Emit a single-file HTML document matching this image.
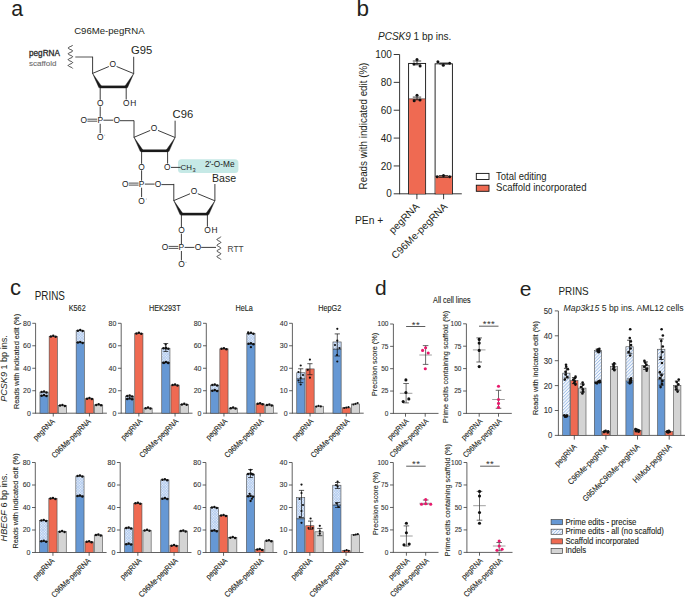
<!DOCTYPE html>
<html><head><meta charset="utf-8"><style>
html,body{margin:0;padding:0;background:#fff;}
body{width:685px;height:598px;overflow:hidden;}
svg{display:block;font-family:"Liberation Sans", sans-serif;}
</style></head><body>
<svg width="685" height="598" viewBox="0 0 685 598" fill="#231f20">
<defs>
<pattern id="hc" patternUnits="userSpaceOnUse" width="1.9" height="1.9" patternTransform="rotate(45)">
<rect width="1.9" height="1.9" fill="#f0f5fc"/><rect width="0.7" height="1.9" fill="#a9c5ec"/><rect width="1.9" height="0.7" fill="#a9c5ec"/>
</pattern>
<pattern id="hd" patternUnits="userSpaceOnUse" width="2.3" height="2.3" patternTransform="rotate(45)">
<rect width="2.3" height="2.3" fill="#f6f9fd"/><rect width="0.85" height="2.3" fill="#a0bfe9"/>
</pattern>
</defs>
<text x="11.2" y="16.2" font-size="21.3">a</text>
<text x="74.2" y="34" font-size="9.6" transform="translate(74.2 34) scale(1.000 1.040) translate(-74.2 -34)">C96Me-pegRNA</text>
<path d="M72.6,45.1 L72.53,45.34 L72.31,45.59 L71.96,45.83 L71.5,46.07 L70.97,46.31 L70.4,46.56 L69.83,46.8 L69.3,47.04 L68.84,47.28 L68.49,47.53 L68.27,47.77 L68.2,48.01 L68.27,48.26 L68.49,48.5 L68.84,48.74 L69.3,48.98 L69.83,49.23 L70.4,49.47 L70.97,49.71 L71.5,49.95 L71.96,50.2 L72.31,50.44 L72.53,50.68 L72.6,50.93 L72.53,51.17 L72.31,51.41 L71.96,51.65 L71.5,51.9 L70.97,52.14 L70.4,52.38 L69.83,52.62 L69.3,52.87 L68.84,53.11 L68.49,53.35 L68.27,53.59 L68.2,53.84 L68.27,54.08 L68.49,54.32 L68.84,54.57 L69.3,54.81 L69.83,55.05 L70.4,55.29 L70.97,55.54 L71.5,55.78 L71.96,56.02 L72.31,56.26 L72.53,56.51 L72.6,56.75 L72.53,56.99 L72.31,57.24 L71.96,57.48 L71.5,57.72 L70.97,57.96 L70.4,58.21 L69.83,58.45 L69.3,58.69 L68.84,58.93 L68.49,59.18 L68.27,59.42 L68.2,59.66 L68.27,59.91 L68.49,60.15 L68.84,60.39 L69.3,60.63 L69.83,60.88 L70.4,61.12 L70.97,61.36 L71.5,61.6 L71.96,61.85 L72.31,62.09 L72.53,62.33 L72.6,62.58 L72.53,62.82 L72.31,63.06 L71.96,63.3 L71.5,63.55 L70.97,63.79 L70.4,64.03 L69.83,64.27 L69.3,64.52 L68.84,64.76 L68.49,65 L68.27,65.24 L68.2,65.49 L68.27,65.73 L68.49,65.97 L68.84,66.22 L69.3,66.46 L69.83,66.7 L70.4,66.94 L70.97,67.19 L71.5,67.43 L71.96,67.67 L72.31,67.91 L72.53,68.16 L72.6,68.4" stroke="#1a1a1a" stroke-width="0.85" fill="none" stroke-linejoin="round"/>
<text x="29" y="55.6" font-size="8.2" fill="#2a2a2a" stroke="#2a2a2a" stroke-width="0.3">pegRNA</text>
<text x="29" y="65.5" font-size="8" fill="#6a6a6a" stroke="#6a6a6a" stroke-width="0.1">scaffold</text>
<line x1="75.3" y1="57" x2="92.6" y2="57" stroke="#555" stroke-width="1"/>
<line x1="92.6" y1="73.4" x2="108.83" y2="66.54" stroke="#1a1a1a" stroke-width="0.85"/>
<line x1="116.58" y1="66.51" x2="133.7" y2="73.6" stroke="#1a1a1a" stroke-width="0.85"/>
<text x="112.7" y="67.25" font-size="8.4" text-anchor="middle" fill="#1a1a1a" stroke="none">O</text>
<path d="M92.6,73.4 L98.89,87.64 L101.51,86.16 Z" fill="#1a1a1a" stroke="#1a1a1a" stroke-width="0.4"/>
<path d="M133.7,73.6 L124.89,86.16 L127.51,87.64 Z" fill="#1a1a1a" stroke="#1a1a1a" stroke-width="0.4"/>
<line x1="99.5" y1="86.9" x2="126.9" y2="86.9" stroke="#1a1a1a" stroke-width="2.6"/>
<line x1="133.7" y1="73.6" x2="133.7" y2="56.8" stroke="#1a1a1a" stroke-width="0.85"/>
<line x1="92.6" y1="73.7" x2="92.6" y2="56.7" stroke="#1a1a1a" stroke-width="0.85"/>
<line x1="100.2" y1="86.9" x2="100.2" y2="99.9" stroke="#1a1a1a" stroke-width="0.85"/>
<text x="100.2" y="106.15" font-size="8.4" text-anchor="middle" fill="#1a1a1a" stroke="none">O</text>
<text x="131" y="54.2" font-size="10.4" transform="translate(131 54.2) scale(1.080 1.000) translate(-131 -54.2)">G95</text>
<line x1="126.2" y1="86.9" x2="126.2" y2="99.5" stroke="#1a1a1a" stroke-width="0.85"/>
<text x="123.1" y="106.15" font-size="8.4" fill="#1a1a1a" letter-spacing="0.7" stroke="none">OH</text>
<line x1="100.2" y1="106.4" x2="100.2" y2="116.8" stroke="#1a1a1a" stroke-width="0.85"/>
<text x="100.2" y="123.15" font-size="8.4" text-anchor="middle" fill="#1a1a1a" stroke="none">P</text>
<line x1="87.4" y1="119.2" x2="97.2" y2="119.2" stroke="#1a1a1a" stroke-width="0.75"/>
<line x1="87.4" y1="121.2" x2="97.2" y2="121.2" stroke="#1a1a1a" stroke-width="0.75"/>
<text x="83.8" y="123.15" font-size="8.4" text-anchor="middle" fill="#1a1a1a" stroke="none">O</text>
<line x1="103.4" y1="120.2" x2="113.2" y2="120.2" stroke="#1a1a1a" stroke-width="0.85"/>
<text x="116.7" y="123.15" font-size="8.4" text-anchor="middle" fill="#1a1a1a" stroke="none">O</text>
<line x1="100.2" y1="123.8" x2="100.2" y2="133.2" stroke="#1a1a1a" stroke-width="0.85"/>
<text x="100.2" y="139.75" font-size="8.4" text-anchor="middle" fill="#1a1a1a" stroke="none">O</text>
<circle cx="104.8" cy="135.1" r="0.45" fill="#555"/>
<line x1="120" y1="120.7" x2="134" y2="120.7" stroke="#1a1a1a" stroke-width="0.85"/>
<line x1="134" y1="137.3" x2="150.23" y2="130.44" stroke="#1a1a1a" stroke-width="0.85"/>
<line x1="157.98" y1="130.41" x2="175.1" y2="137.5" stroke="#1a1a1a" stroke-width="0.85"/>
<text x="154.1" y="131.15" font-size="8.4" text-anchor="middle" fill="#1a1a1a" stroke="none">O</text>
<path d="M134,137.3 L140.29,151.54 L142.91,150.06 Z" fill="#1a1a1a" stroke="#1a1a1a" stroke-width="0.4"/>
<path d="M175.1,137.5 L166.29,150.06 L168.91,151.54 Z" fill="#1a1a1a" stroke="#1a1a1a" stroke-width="0.4"/>
<line x1="140.9" y1="150.8" x2="168.3" y2="150.8" stroke="#1a1a1a" stroke-width="2.6"/>
<line x1="175.1" y1="137.5" x2="175.1" y2="120.7" stroke="#1a1a1a" stroke-width="0.85"/>
<line x1="134" y1="137.6" x2="134" y2="120.6" stroke="#1a1a1a" stroke-width="0.85"/>
<line x1="141.6" y1="150.8" x2="141.6" y2="163.8" stroke="#1a1a1a" stroke-width="0.85"/>
<text x="141.6" y="170.05" font-size="8.4" text-anchor="middle" fill="#1a1a1a" stroke="none">O</text>
<text x="172.6" y="117.9" font-size="10.4" transform="translate(172.6 117.9) scale(1.080 1.000) translate(-172.6 -117.9)">C96</text>
<rect x="178" y="159.3" width="60.4" height="13.6" rx="3.5" fill="#c6e9e6"/>
<line x1="167.6" y1="150.8" x2="167.6" y2="163.6" stroke="#1a1a1a" stroke-width="0.85"/>
<text x="167.3" y="170.15" font-size="8.4" text-anchor="middle" fill="#1a1a1a" stroke="none">O</text>
<line x1="171" y1="167.4" x2="180.6" y2="167.4" stroke="#1a1a1a" stroke-width="0.85"/>
<text x="180.6" y="170" font-size="7.9" fill="#1a1a1a" stroke="none">CH</text>
<text x="192.6" y="171.7" font-size="5.6" fill="#1a1a1a" stroke="none">3</text>
<text x="204.9" y="166.7" font-size="8.3" fill="#222" stroke="none">2'-O-Me</text>
<line x1="141.6" y1="170.3" x2="141.6" y2="180.7" stroke="#1a1a1a" stroke-width="0.85"/>
<text x="141.6" y="187.05" font-size="8.4" text-anchor="middle" fill="#1a1a1a" stroke="none">P</text>
<line x1="128.8" y1="183.1" x2="138.6" y2="183.1" stroke="#1a1a1a" stroke-width="0.75"/>
<line x1="128.8" y1="185.1" x2="138.6" y2="185.1" stroke="#1a1a1a" stroke-width="0.75"/>
<text x="125.2" y="187.05" font-size="8.4" text-anchor="middle" fill="#1a1a1a" stroke="none">O</text>
<line x1="144.8" y1="184.1" x2="154.6" y2="184.1" stroke="#1a1a1a" stroke-width="0.85"/>
<text x="158.1" y="187.05" font-size="8.4" text-anchor="middle" fill="#1a1a1a" stroke="none">O</text>
<line x1="141.6" y1="187.7" x2="141.6" y2="197.1" stroke="#1a1a1a" stroke-width="0.85"/>
<text x="141.6" y="203.65" font-size="8.4" text-anchor="middle" fill="#1a1a1a" stroke="none">O</text>
<circle cx="146.2" cy="199" r="0.45" fill="#555"/>
<line x1="161.4" y1="184.6" x2="173.8" y2="184.6" stroke="#1a1a1a" stroke-width="0.85"/>
<line x1="173.8" y1="200.6" x2="190.03" y2="193.74" stroke="#1a1a1a" stroke-width="0.85"/>
<line x1="197.78" y1="193.71" x2="214.9" y2="200.8" stroke="#1a1a1a" stroke-width="0.85"/>
<text x="193.9" y="194.45" font-size="8.4" text-anchor="middle" fill="#1a1a1a" stroke="none">O</text>
<path d="M173.8,200.6 L180.09,214.84 L182.71,213.36 Z" fill="#1a1a1a" stroke="#1a1a1a" stroke-width="0.4"/>
<path d="M214.9,200.8 L206.09,213.36 L208.71,214.84 Z" fill="#1a1a1a" stroke="#1a1a1a" stroke-width="0.4"/>
<line x1="180.7" y1="214.1" x2="208.1" y2="214.1" stroke="#1a1a1a" stroke-width="2.6"/>
<line x1="214.9" y1="200.8" x2="214.9" y2="184" stroke="#1a1a1a" stroke-width="0.85"/>
<line x1="173.8" y1="200.9" x2="173.8" y2="183.9" stroke="#1a1a1a" stroke-width="0.85"/>
<line x1="181.4" y1="214.1" x2="181.4" y2="227.1" stroke="#1a1a1a" stroke-width="0.85"/>
<text x="181.4" y="233.35" font-size="8.4" text-anchor="middle" fill="#1a1a1a" stroke="none">O</text>
<text x="212" y="181.8" font-size="10.2" transform="translate(212 181.8) scale(1.040 1.000) translate(-212 -181.8)">Base</text>
<line x1="207.4" y1="214.1" x2="207.4" y2="226.7" stroke="#1a1a1a" stroke-width="0.85"/>
<text x="204.3" y="233.35" font-size="8.4" fill="#1a1a1a" letter-spacing="0.7" stroke="none">OH</text>
<line x1="181.4" y1="233.6" x2="181.4" y2="244" stroke="#1a1a1a" stroke-width="0.85"/>
<text x="181.4" y="250.35" font-size="8.4" text-anchor="middle" fill="#1a1a1a" stroke="none">P</text>
<line x1="168.6" y1="246.4" x2="178.4" y2="246.4" stroke="#1a1a1a" stroke-width="0.75"/>
<line x1="168.6" y1="248.4" x2="178.4" y2="248.4" stroke="#1a1a1a" stroke-width="0.75"/>
<text x="165" y="250.35" font-size="8.4" text-anchor="middle" fill="#1a1a1a" stroke="none">O</text>
<line x1="184.6" y1="247.4" x2="194.4" y2="247.4" stroke="#1a1a1a" stroke-width="0.85"/>
<text x="197.9" y="250.35" font-size="8.4" text-anchor="middle" fill="#1a1a1a" stroke="none">O</text>
<line x1="181.4" y1="251" x2="181.4" y2="260.4" stroke="#1a1a1a" stroke-width="0.85"/>
<text x="181.4" y="266.95" font-size="8.4" text-anchor="middle" fill="#1a1a1a" stroke="none">O</text>
<circle cx="186" cy="262.3" r="0.45" fill="#555"/>
<line x1="201.2" y1="247.4" x2="216" y2="247.4" stroke="#1a1a1a" stroke-width="0.85"/>
<path d="M220.8,236.7 L220.74,236.94 L220.55,237.17 L220.24,237.41 L219.85,237.65 L219.39,237.89 L218.9,238.12 L218.41,238.36 L217.95,238.6 L217.56,238.84 L217.25,239.07 L217.06,239.31 L217,239.55 L217.06,239.79 L217.25,240.02 L217.56,240.26 L217.95,240.5 L218.41,240.74 L218.9,240.97 L219.39,241.21 L219.85,241.45 L220.24,241.69 L220.55,241.92 L220.74,242.16 L220.8,242.4 L220.74,242.64 L220.55,242.88 L220.24,243.11 L219.85,243.35 L219.39,243.59 L218.9,243.82 L218.41,244.06 L217.95,244.3 L217.56,244.54 L217.25,244.78 L217.06,245.01 L217,245.25 L217.06,245.49 L217.25,245.72 L217.56,245.96 L217.95,246.2 L218.41,246.44 L218.9,246.67 L219.39,246.91 L219.85,247.15 L220.24,247.39 L220.55,247.62 L220.74,247.86 L220.8,248.1 L220.74,248.34 L220.55,248.57 L220.24,248.81 L219.85,249.05 L219.39,249.29 L218.9,249.53 L218.41,249.76 L217.95,250 L217.56,250.24 L217.25,250.47 L217.06,250.71 L217,250.95 L217.06,251.19 L217.25,251.43 L217.56,251.66 L217.95,251.9 L218.41,252.14 L218.9,252.38 L219.39,252.61 L219.85,252.85 L220.24,253.09 L220.55,253.32 L220.74,253.56 L220.8,253.8 L220.74,254.04 L220.55,254.28 L220.24,254.51 L219.85,254.75 L219.39,254.99 L218.9,255.22 L218.41,255.46 L217.95,255.7 L217.56,255.94 L217.25,256.18 L217.06,256.41 L217,256.65 L217.06,256.89 L217.25,257.12 L217.56,257.36 L217.95,257.6 L218.41,257.84 L218.9,258.07 L219.39,258.31 L219.85,258.55 L220.24,258.79 L220.55,259.02 L220.74,259.26 L220.8,259.5" stroke="#1a1a1a" stroke-width="0.85" fill="none" stroke-linejoin="round"/>
<text x="227.6" y="252" font-size="8.3" fill="#444" stroke="none">RTT</text>
<text x="356.6" y="16" font-size="22.5">b</text>
<text x="378.0" y="39.6" font-size="10"><tspan font-style="italic">PCSK9</tspan> 1 bp ins.</text>
<line x1="399.6" y1="194.2" x2="399.6" y2="54.5" stroke="#222" stroke-width="0.9"/>
<line x1="393.7" y1="193.8" x2="399.6" y2="193.8" stroke="#222" stroke-width="0.9"/>
<text x="391.9" y="197.4" font-size="10" text-anchor="end">0</text>
<line x1="393.7" y1="165.94" x2="399.6" y2="165.94" stroke="#222" stroke-width="0.9"/>
<text x="391.9" y="169.54" font-size="10" text-anchor="end">20</text>
<line x1="393.7" y1="138.08" x2="399.6" y2="138.08" stroke="#222" stroke-width="0.9"/>
<text x="391.9" y="141.68" font-size="10" text-anchor="end">40</text>
<line x1="393.7" y1="110.22" x2="399.6" y2="110.22" stroke="#222" stroke-width="0.9"/>
<text x="391.9" y="113.82" font-size="10" text-anchor="end">60</text>
<line x1="393.7" y1="82.36" x2="399.6" y2="82.36" stroke="#222" stroke-width="0.9"/>
<text x="391.9" y="85.96" font-size="10" text-anchor="end">80</text>
<line x1="393.7" y1="54.5" x2="399.6" y2="54.5" stroke="#222" stroke-width="0.9"/>
<text x="391.9" y="58.1" font-size="10" text-anchor="end">100</text>
<line x1="399.6" y1="193.8" x2="461.8" y2="193.8" stroke="#222" stroke-width="0.9"/>
<line x1="416.9" y1="193.8" x2="416.9" y2="199.2" stroke="#222" stroke-width="0.9"/>
<line x1="443.6" y1="193.8" x2="443.6" y2="199.2" stroke="#222" stroke-width="0.9"/>
<rect x="408.6" y="63.42" width="17" height="130.38" fill="#fff" stroke="#111" stroke-width="0.9"/>
<rect x="409.05" y="98.8" width="16.1" height="95" fill="#ef6a52"/>
<line x1="408.6" y1="98.8" x2="425.6" y2="98.8" stroke="#333" stroke-width="0.6"/>
<rect x="435.1" y="63.83" width="17.3" height="129.97" fill="#fff" stroke="#111" stroke-width="0.9"/>
<rect x="435.55" y="176.25" width="16.4" height="17.55" fill="#ef6a52"/>
<line x1="435.1" y1="176.25" x2="452.4" y2="176.25" stroke="#333" stroke-width="0.6"/>
<line x1="417" y1="61" x2="417" y2="64.8" stroke="#111" stroke-width="0.8"/>
<line x1="412.8" y1="61" x2="421.2" y2="61" stroke="#111" stroke-width="0.8"/>
<line x1="412.8" y1="64.8" x2="421.2" y2="64.8" stroke="#111" stroke-width="0.8"/>
<circle cx="417" cy="59.5" r="1.5" fill="#111"/>
<circle cx="414" cy="64" r="1.5" fill="#111"/>
<circle cx="420.1" cy="66" r="1.5" fill="#111"/>
<line x1="417" y1="97.1" x2="417" y2="99.8" stroke="#111" stroke-width="0.8"/>
<line x1="412.8" y1="97.1" x2="421.2" y2="97.1" stroke="#111" stroke-width="0.8"/>
<line x1="412.8" y1="99.8" x2="421.2" y2="99.8" stroke="#111" stroke-width="0.8"/>
<circle cx="417" cy="95.3" r="1.5" fill="#111"/>
<circle cx="414.2" cy="100.7" r="1.5" fill="#111"/>
<circle cx="420" cy="100" r="1.5" fill="#111"/>
<line x1="443.8" y1="63" x2="443.8" y2="64" stroke="#111" stroke-width="0.8"/>
<line x1="439.3" y1="63" x2="448.3" y2="63" stroke="#111" stroke-width="0.8"/>
<line x1="439.3" y1="64" x2="448.3" y2="64" stroke="#111" stroke-width="0.8"/>
<circle cx="437.9" cy="61.8" r="1.5" fill="#111"/>
<circle cx="443.3" cy="65.2" r="1.5" fill="#111"/>
<circle cx="449.6" cy="63.3" r="1.5" fill="#111"/>
<line x1="443.5" y1="175.6" x2="443.5" y2="177.4" stroke="#111" stroke-width="0.8"/>
<line x1="439" y1="175.6" x2="448" y2="175.6" stroke="#111" stroke-width="0.8"/>
<line x1="439" y1="177.4" x2="448" y2="177.4" stroke="#111" stroke-width="0.8"/>
<circle cx="437.2" cy="176.8" r="1.5" fill="#111"/>
<circle cx="443.5" cy="175.4" r="1.5" fill="#111"/>
<circle cx="449.6" cy="176.8" r="1.5" fill="#111"/>
<text x="366.8" y="126" font-size="9.8" text-anchor="middle" transform="rotate(-90 366.8 126) translate(366.8 126) scale(1.000 1.040) translate(-366.8 -126)">Reads with indicated edit (%)</text>
<text x="355" y="224.1" font-size="10.3">PEn +</text>
<text x="420" y="207.2" font-size="10.1" text-anchor="end" transform="rotate(-45 420 207.2)">pegRNA</text>
<text x="448" y="207.2" font-size="10.1" text-anchor="end" transform="rotate(-45 448 207.2)">C96Me-pegRNA</text>
<rect x="476.3" y="173.4" width="12.7" height="6.1" fill="#fff" stroke="#111" stroke-width="0.9"/>
<rect x="476.3" y="185.2" width="12.7" height="6.1" fill="#ef6a52" stroke="#111" stroke-width="0.9"/>
<text x="496" y="179.7" font-size="9.5" transform="translate(496 179.7) scale(1.000 1.120) translate(-496 -179.7)">Total editing</text>
<text x="496" y="191.4" font-size="9.6" transform="translate(496 191.4) scale(1.000 1.120) translate(-496 -191.4)">Scaffold incorporated</text>
<text x="10" y="294.6" font-size="22">c</text>
<text x="34.7" y="299.7" font-size="9.9" transform="translate(34.7 299.7) scale(1.000 1.250) translate(-34.7 -299.7)">PRINS</text>
<line x1="35.6" y1="413.6" x2="35.6" y2="323.3" stroke="#3a3a3a" stroke-width="0.8"/>
<line x1="32.3" y1="413.2" x2="35.6" y2="413.2" stroke="#3a3a3a" stroke-width="0.8"/>
<text x="30.8" y="415.6" font-size="7" text-anchor="end" fill="#333" stroke="#333" stroke-width="0.1">0</text>
<line x1="32.3" y1="390.73" x2="35.6" y2="390.73" stroke="#3a3a3a" stroke-width="0.8"/>
<text x="30.8" y="393.12" font-size="7" text-anchor="end" fill="#333" stroke="#333" stroke-width="0.1">20</text>
<line x1="32.3" y1="368.25" x2="35.6" y2="368.25" stroke="#3a3a3a" stroke-width="0.8"/>
<text x="30.8" y="370.65" font-size="7" text-anchor="end" fill="#333" stroke="#333" stroke-width="0.1">40</text>
<line x1="32.3" y1="345.77" x2="35.6" y2="345.77" stroke="#3a3a3a" stroke-width="0.8"/>
<text x="30.8" y="348.17" font-size="7" text-anchor="end" fill="#333" stroke="#333" stroke-width="0.1">60</text>
<line x1="32.3" y1="323.3" x2="35.6" y2="323.3" stroke="#3a3a3a" stroke-width="0.8"/>
<text x="30.8" y="325.7" font-size="7" text-anchor="end" fill="#333" stroke="#333" stroke-width="0.1">80</text>
<line x1="35.6" y1="413.2" x2="106.9" y2="413.2" stroke="#3a3a3a" stroke-width="0.8"/>
<text x="77.2" y="310.7" font-size="7.3" text-anchor="middle" transform="translate(77.2 310.7) scale(1.000 1.180) translate(-77.2 -310.7)" stroke="#231f20" stroke-width="0.1">K562</text>
<rect x="39.95" y="392.07" width="8.2" height="3.6" fill="url(#hc)"/>
<rect x="39.95" y="395.67" width="8.2" height="17.53" fill="#6698d4"/>
<rect x="39.95" y="392.07" width="8.2" height="21.13" fill="none" stroke="#4a4a4a" stroke-width="0.6"/>
<line x1="39.95" y1="395.67" x2="48.15" y2="395.67" stroke="#222" stroke-width="0.7"/>
<rect x="49.15" y="336.45" width="8.2" height="76.75" fill="#ef6a52" stroke="#4a4a4a" stroke-width="0.6"/>
<rect x="58.35" y="405.56" width="8.2" height="7.64" fill="#d4d4d4" stroke="#4a4a4a" stroke-width="0.6"/>
<line x1="53.25" y1="413.2" x2="53.25" y2="416.5" stroke="#3a3a3a" stroke-width="0.8"/>
<circle cx="41.65" cy="392.07" r="1.25" fill="#111"/>
<circle cx="44.05" cy="391.47" r="1.25" fill="#111"/>
<circle cx="46.45" cy="392.47" r="1.25" fill="#111"/>
<circle cx="41.65" cy="395.67" r="1.25" fill="#111"/>
<circle cx="44.05" cy="395.07" r="1.25" fill="#111"/>
<circle cx="46.45" cy="396.07" r="1.25" fill="#111"/>
<circle cx="50.85" cy="336.45" r="1.25" fill="#111"/>
<circle cx="53.25" cy="335.85" r="1.25" fill="#111"/>
<circle cx="55.65" cy="336.85" r="1.25" fill="#111"/>
<circle cx="60.05" cy="405.56" r="1.25" fill="#111"/>
<circle cx="62.45" cy="404.96" r="1.25" fill="#111"/>
<circle cx="64.85" cy="405.96" r="1.25" fill="#111"/>
<text x="55.25" y="421.8" font-size="7.1" text-anchor="end" transform="rotate(-45 55.25 421.8) translate(55.25 421.8) scale(1.000 1.120) translate(-55.25 -421.8)" stroke="#231f20" stroke-width="0.1">pegRNA</text>
<rect x="76.15" y="330.72" width="8.2" height="11.8" fill="url(#hc)"/>
<rect x="76.15" y="342.52" width="8.2" height="70.68" fill="#6698d4"/>
<rect x="76.15" y="330.72" width="8.2" height="82.48" fill="none" stroke="#4a4a4a" stroke-width="0.6"/>
<line x1="76.15" y1="342.52" x2="84.35" y2="342.52" stroke="#222" stroke-width="0.7"/>
<rect x="85.35" y="398.7" width="8.2" height="14.5" fill="#ef6a52" stroke="#4a4a4a" stroke-width="0.6"/>
<rect x="94.55" y="404.88" width="8.2" height="8.32" fill="#d4d4d4" stroke="#4a4a4a" stroke-width="0.6"/>
<line x1="89.45" y1="413.2" x2="89.45" y2="416.5" stroke="#3a3a3a" stroke-width="0.8"/>
<circle cx="77.85" cy="330.72" r="1.25" fill="#111"/>
<circle cx="80.25" cy="330.12" r="1.25" fill="#111"/>
<circle cx="82.65" cy="331.12" r="1.25" fill="#111"/>
<circle cx="77.85" cy="342.52" r="1.25" fill="#111"/>
<circle cx="80.25" cy="341.92" r="1.25" fill="#111"/>
<circle cx="82.65" cy="342.92" r="1.25" fill="#111"/>
<circle cx="87.05" cy="398.7" r="1.25" fill="#111"/>
<circle cx="89.45" cy="398.1" r="1.25" fill="#111"/>
<circle cx="91.85" cy="399.1" r="1.25" fill="#111"/>
<circle cx="96.25" cy="404.88" r="1.25" fill="#111"/>
<circle cx="98.65" cy="404.28" r="1.25" fill="#111"/>
<circle cx="101.05" cy="405.28" r="1.25" fill="#111"/>
<text x="91.45" y="421.8" font-size="7.1" text-anchor="end" transform="rotate(-45 91.45 421.8) translate(91.45 421.8) scale(1.000 1.120) translate(-91.45 -421.8)" stroke="#231f20" stroke-width="0.1">C96Me-pegRNA</text>
<line x1="121.2" y1="413.6" x2="121.2" y2="323.3" stroke="#3a3a3a" stroke-width="0.8"/>
<line x1="117.9" y1="413.2" x2="121.2" y2="413.2" stroke="#3a3a3a" stroke-width="0.8"/>
<text x="116.4" y="415.6" font-size="7" text-anchor="end" fill="#333" stroke="#333" stroke-width="0.1">0</text>
<line x1="117.9" y1="390.73" x2="121.2" y2="390.73" stroke="#3a3a3a" stroke-width="0.8"/>
<text x="116.4" y="393.12" font-size="7" text-anchor="end" fill="#333" stroke="#333" stroke-width="0.1">20</text>
<line x1="117.9" y1="368.25" x2="121.2" y2="368.25" stroke="#3a3a3a" stroke-width="0.8"/>
<text x="116.4" y="370.65" font-size="7" text-anchor="end" fill="#333" stroke="#333" stroke-width="0.1">40</text>
<line x1="117.9" y1="345.77" x2="121.2" y2="345.77" stroke="#3a3a3a" stroke-width="0.8"/>
<text x="116.4" y="348.17" font-size="7" text-anchor="end" fill="#333" stroke="#333" stroke-width="0.1">60</text>
<line x1="117.9" y1="323.3" x2="121.2" y2="323.3" stroke="#3a3a3a" stroke-width="0.8"/>
<text x="116.4" y="325.7" font-size="7" text-anchor="end" fill="#333" stroke="#333" stroke-width="0.1">80</text>
<line x1="121.2" y1="413.2" x2="192.5" y2="413.2" stroke="#3a3a3a" stroke-width="0.8"/>
<text x="164.8" y="310.7" font-size="7.3" text-anchor="middle" transform="translate(164.8 310.7) scale(1.000 1.180) translate(-164.8 -310.7)" stroke="#231f20" stroke-width="0.1">HEK293T</text>
<rect x="125.55" y="396.12" width="8.2" height="2.81" fill="url(#hc)"/>
<rect x="125.55" y="398.93" width="8.2" height="14.27" fill="#6698d4"/>
<rect x="125.55" y="396.12" width="8.2" height="17.08" fill="none" stroke="#4a4a4a" stroke-width="0.6"/>
<line x1="125.55" y1="398.93" x2="133.75" y2="398.93" stroke="#222" stroke-width="0.7"/>
<rect x="134.75" y="333.41" width="8.2" height="79.79" fill="#ef6a52" stroke="#4a4a4a" stroke-width="0.6"/>
<rect x="143.95" y="408.14" width="8.2" height="5.06" fill="#d4d4d4" stroke="#4a4a4a" stroke-width="0.6"/>
<line x1="138.85" y1="413.2" x2="138.85" y2="416.5" stroke="#3a3a3a" stroke-width="0.8"/>
<circle cx="127.25" cy="396.12" r="1.25" fill="#111"/>
<circle cx="129.65" cy="395.52" r="1.25" fill="#111"/>
<circle cx="132.05" cy="396.52" r="1.25" fill="#111"/>
<circle cx="127.25" cy="398.93" r="1.25" fill="#111"/>
<circle cx="129.65" cy="398.33" r="1.25" fill="#111"/>
<circle cx="132.05" cy="399.33" r="1.25" fill="#111"/>
<circle cx="136.45" cy="333.41" r="1.25" fill="#111"/>
<circle cx="138.85" cy="332.81" r="1.25" fill="#111"/>
<circle cx="141.25" cy="333.81" r="1.25" fill="#111"/>
<circle cx="145.65" cy="408.14" r="1.25" fill="#111"/>
<circle cx="148.05" cy="407.54" r="1.25" fill="#111"/>
<circle cx="150.45" cy="408.54" r="1.25" fill="#111"/>
<text x="142.75" y="421.8" font-size="7.05" text-anchor="end" transform="rotate(-45 142.75 421.8) translate(142.75 421.8) scale(1.000 1.120) translate(-142.75 -421.8)" stroke="#231f20" stroke-width="0.1">pegRNA</text>
<rect x="161.75" y="348.25" width="8.2" height="14.38" fill="url(#hc)"/>
<rect x="161.75" y="362.63" width="8.2" height="50.57" fill="#6698d4"/>
<rect x="161.75" y="348.25" width="8.2" height="64.95" fill="none" stroke="#4a4a4a" stroke-width="0.6"/>
<line x1="161.75" y1="362.63" x2="169.95" y2="362.63" stroke="#222" stroke-width="0.7"/>
<rect x="170.95" y="385.11" width="8.2" height="28.09" fill="#ef6a52" stroke="#4a4a4a" stroke-width="0.6"/>
<rect x="180.15" y="404.43" width="8.2" height="8.77" fill="#d4d4d4" stroke="#4a4a4a" stroke-width="0.6"/>
<line x1="175.05" y1="413.2" x2="175.05" y2="416.5" stroke="#3a3a3a" stroke-width="0.8"/>
<circle cx="163.45" cy="348.25" r="1.25" fill="#111"/>
<circle cx="165.85" cy="347.65" r="1.25" fill="#111"/>
<circle cx="168.25" cy="348.65" r="1.25" fill="#111"/>
<circle cx="163.45" cy="362.63" r="1.25" fill="#111"/>
<circle cx="165.85" cy="362.03" r="1.25" fill="#111"/>
<circle cx="168.25" cy="363.03" r="1.25" fill="#111"/>
<circle cx="172.65" cy="385.11" r="1.25" fill="#111"/>
<circle cx="175.05" cy="384.51" r="1.25" fill="#111"/>
<circle cx="177.45" cy="385.51" r="1.25" fill="#111"/>
<circle cx="181.85" cy="404.43" r="1.25" fill="#111"/>
<circle cx="184.25" cy="403.83" r="1.25" fill="#111"/>
<circle cx="186.65" cy="404.83" r="1.25" fill="#111"/>
<text x="178.95" y="421.8" font-size="7.05" text-anchor="end" transform="rotate(-45 178.95 421.8) translate(178.95 421.8) scale(1.000 1.120) translate(-178.95 -421.8)" stroke="#231f20" stroke-width="0.1">C96Me-pegRNA</text>
<line x1="206.3" y1="413.6" x2="206.3" y2="323.3" stroke="#3a3a3a" stroke-width="0.8"/>
<line x1="203" y1="413.2" x2="206.3" y2="413.2" stroke="#3a3a3a" stroke-width="0.8"/>
<text x="201.5" y="415.6" font-size="7" text-anchor="end" fill="#333" stroke="#333" stroke-width="0.1">0</text>
<line x1="203" y1="390.73" x2="206.3" y2="390.73" stroke="#3a3a3a" stroke-width="0.8"/>
<text x="201.5" y="393.12" font-size="7" text-anchor="end" fill="#333" stroke="#333" stroke-width="0.1">20</text>
<line x1="203" y1="368.25" x2="206.3" y2="368.25" stroke="#3a3a3a" stroke-width="0.8"/>
<text x="201.5" y="370.65" font-size="7" text-anchor="end" fill="#333" stroke="#333" stroke-width="0.1">40</text>
<line x1="203" y1="345.77" x2="206.3" y2="345.77" stroke="#3a3a3a" stroke-width="0.8"/>
<text x="201.5" y="348.17" font-size="7" text-anchor="end" fill="#333" stroke="#333" stroke-width="0.1">60</text>
<line x1="203" y1="323.3" x2="206.3" y2="323.3" stroke="#3a3a3a" stroke-width="0.8"/>
<text x="201.5" y="325.7" font-size="7" text-anchor="end" fill="#333" stroke="#333" stroke-width="0.1">80</text>
<line x1="206.3" y1="413.2" x2="277.6" y2="413.2" stroke="#3a3a3a" stroke-width="0.8"/>
<text x="244.1" y="310.7" font-size="7.3" text-anchor="middle" transform="translate(244.1 310.7) scale(1.000 1.180) translate(-244.1 -310.7)" stroke="#231f20" stroke-width="0.1">HeLa</text>
<rect x="210.65" y="385.11" width="8.2" height="5.62" fill="url(#hc)"/>
<rect x="210.65" y="390.73" width="8.2" height="22.47" fill="#6698d4"/>
<rect x="210.65" y="385.11" width="8.2" height="28.09" fill="none" stroke="#4a4a4a" stroke-width="0.6"/>
<line x1="210.65" y1="390.73" x2="218.85" y2="390.73" stroke="#222" stroke-width="0.7"/>
<rect x="219.85" y="348.81" width="8.2" height="64.39" fill="#ef6a52" stroke="#4a4a4a" stroke-width="0.6"/>
<rect x="229.05" y="408.14" width="8.2" height="5.06" fill="#d4d4d4" stroke="#4a4a4a" stroke-width="0.6"/>
<line x1="223.95" y1="413.2" x2="223.95" y2="416.5" stroke="#3a3a3a" stroke-width="0.8"/>
<circle cx="212.35" cy="385.11" r="1.25" fill="#111"/>
<circle cx="214.75" cy="384.51" r="1.25" fill="#111"/>
<circle cx="217.15" cy="385.51" r="1.25" fill="#111"/>
<circle cx="212.35" cy="390.73" r="1.25" fill="#111"/>
<circle cx="214.75" cy="390.12" r="1.25" fill="#111"/>
<circle cx="217.15" cy="391.12" r="1.25" fill="#111"/>
<circle cx="221.55" cy="348.81" r="1.25" fill="#111"/>
<circle cx="223.95" cy="348.21" r="1.25" fill="#111"/>
<circle cx="226.35" cy="349.21" r="1.25" fill="#111"/>
<circle cx="230.75" cy="408.14" r="1.25" fill="#111"/>
<circle cx="233.15" cy="407.54" r="1.25" fill="#111"/>
<circle cx="235.55" cy="408.54" r="1.25" fill="#111"/>
<text x="227.85" y="421.8" font-size="7.05" text-anchor="end" transform="rotate(-45 227.85 421.8) translate(227.85 421.8) scale(1.000 1.120) translate(-227.85 -421.8)" stroke="#231f20" stroke-width="0.1">pegRNA</text>
<rect x="246.85" y="333.41" width="8.2" height="10.45" fill="url(#hc)"/>
<rect x="246.85" y="343.86" width="8.2" height="69.34" fill="#6698d4"/>
<rect x="246.85" y="333.41" width="8.2" height="79.79" fill="none" stroke="#4a4a4a" stroke-width="0.6"/>
<line x1="246.85" y1="343.86" x2="255.05" y2="343.86" stroke="#222" stroke-width="0.7"/>
<rect x="256.05" y="403.87" width="8.2" height="9.33" fill="#ef6a52" stroke="#4a4a4a" stroke-width="0.6"/>
<rect x="265.25" y="405.11" width="8.2" height="8.09" fill="#d4d4d4" stroke="#4a4a4a" stroke-width="0.6"/>
<line x1="260.15" y1="413.2" x2="260.15" y2="416.5" stroke="#3a3a3a" stroke-width="0.8"/>
<circle cx="248.55" cy="333.41" r="1.25" fill="#111"/>
<circle cx="250.95" cy="332.81" r="1.25" fill="#111"/>
<circle cx="253.35" cy="333.81" r="1.25" fill="#111"/>
<circle cx="248.55" cy="343.86" r="1.25" fill="#111"/>
<circle cx="250.95" cy="343.26" r="1.25" fill="#111"/>
<circle cx="253.35" cy="344.26" r="1.25" fill="#111"/>
<circle cx="257.75" cy="403.87" r="1.25" fill="#111"/>
<circle cx="260.15" cy="403.27" r="1.25" fill="#111"/>
<circle cx="262.55" cy="404.27" r="1.25" fill="#111"/>
<circle cx="266.95" cy="405.11" r="1.25" fill="#111"/>
<circle cx="269.35" cy="404.51" r="1.25" fill="#111"/>
<circle cx="271.75" cy="405.51" r="1.25" fill="#111"/>
<text x="264.05" y="421.8" font-size="7.05" text-anchor="end" transform="rotate(-45 264.05 421.8) translate(264.05 421.8) scale(1.000 1.120) translate(-264.05 -421.8)" stroke="#231f20" stroke-width="0.1">C96Me-pegRNA</text>
<line x1="292.4" y1="413.6" x2="292.4" y2="323.3" stroke="#3a3a3a" stroke-width="0.8"/>
<line x1="289.1" y1="413.2" x2="292.4" y2="413.2" stroke="#3a3a3a" stroke-width="0.8"/>
<text x="287.6" y="415.6" font-size="7" text-anchor="end" fill="#333" stroke="#333" stroke-width="0.1">0</text>
<line x1="289.1" y1="390.73" x2="292.4" y2="390.73" stroke="#3a3a3a" stroke-width="0.8"/>
<text x="287.6" y="393.12" font-size="7" text-anchor="end" fill="#333" stroke="#333" stroke-width="0.1">10</text>
<line x1="289.1" y1="368.25" x2="292.4" y2="368.25" stroke="#3a3a3a" stroke-width="0.8"/>
<text x="287.6" y="370.65" font-size="7" text-anchor="end" fill="#333" stroke="#333" stroke-width="0.1">20</text>
<line x1="289.1" y1="345.77" x2="292.4" y2="345.77" stroke="#3a3a3a" stroke-width="0.8"/>
<text x="287.6" y="348.17" font-size="7" text-anchor="end" fill="#333" stroke="#333" stroke-width="0.1">30</text>
<line x1="289.1" y1="323.3" x2="292.4" y2="323.3" stroke="#3a3a3a" stroke-width="0.8"/>
<text x="287.6" y="325.7" font-size="7" text-anchor="end" fill="#333" stroke="#333" stroke-width="0.1">40</text>
<line x1="292.4" y1="413.2" x2="363.7" y2="413.2" stroke="#3a3a3a" stroke-width="0.8"/>
<text x="329.8" y="310.7" font-size="7.3" text-anchor="middle" transform="translate(329.8 310.7) scale(1.000 1.180) translate(-329.8 -310.7)" stroke="#231f20" stroke-width="0.1">HepG2</text>
<rect x="296.75" y="372.75" width="8.2" height="6.07" fill="url(#hc)"/>
<rect x="296.75" y="378.81" width="8.2" height="34.39" fill="#6698d4"/>
<rect x="296.75" y="372.75" width="8.2" height="40.45" fill="none" stroke="#4a4a4a" stroke-width="0.6"/>
<line x1="296.75" y1="378.81" x2="304.95" y2="378.81" stroke="#222" stroke-width="0.7"/>
<rect x="305.95" y="368.92" width="8.2" height="44.28" fill="#ef6a52" stroke="#4a4a4a" stroke-width="0.6"/>
<rect x="315.15" y="406.23" width="8.2" height="6.97" fill="#d4d4d4" stroke="#4a4a4a" stroke-width="0.6"/>
<line x1="310.05" y1="413.2" x2="310.05" y2="416.5" stroke="#3a3a3a" stroke-width="0.8"/>
<text x="313.95" y="421.8" font-size="7.05" text-anchor="end" transform="rotate(-45 313.95 421.8) translate(313.95 421.8) scale(1.000 1.120) translate(-313.95 -421.8)" stroke="#231f20" stroke-width="0.1">pegRNA</text>
<rect x="332.95" y="341.95" width="8.2" height="7.19" fill="url(#hc)"/>
<rect x="332.95" y="349.15" width="8.2" height="64.05" fill="#6698d4"/>
<rect x="332.95" y="341.95" width="8.2" height="71.25" fill="none" stroke="#4a4a4a" stroke-width="0.6"/>
<line x1="332.95" y1="349.15" x2="341.15" y2="349.15" stroke="#222" stroke-width="0.7"/>
<rect x="342.15" y="407.81" width="8.2" height="5.39" fill="#ef6a52" stroke="#4a4a4a" stroke-width="0.6"/>
<rect x="351.35" y="403.99" width="8.2" height="9.21" fill="#d4d4d4" stroke="#4a4a4a" stroke-width="0.6"/>
<line x1="346.25" y1="413.2" x2="346.25" y2="416.5" stroke="#3a3a3a" stroke-width="0.8"/>
<text x="350.15" y="421.8" font-size="7.05" text-anchor="end" transform="rotate(-45 350.15 421.8) translate(350.15 421.8) scale(1.000 1.120) translate(-350.15 -421.8)" stroke="#231f20" stroke-width="0.1">C96Me-pegRNA</text>
<line x1="35.3" y1="552.9" x2="35.3" y2="462.5" stroke="#3a3a3a" stroke-width="0.8"/>
<line x1="32" y1="552.5" x2="35.3" y2="552.5" stroke="#3a3a3a" stroke-width="0.8"/>
<text x="30.5" y="554.9" font-size="7" text-anchor="end" fill="#333" stroke="#333" stroke-width="0.1">0</text>
<line x1="32" y1="530" x2="35.3" y2="530" stroke="#3a3a3a" stroke-width="0.8"/>
<text x="30.5" y="532.4" font-size="7" text-anchor="end" fill="#333" stroke="#333" stroke-width="0.1">20</text>
<line x1="32" y1="507.5" x2="35.3" y2="507.5" stroke="#3a3a3a" stroke-width="0.8"/>
<text x="30.5" y="509.9" font-size="7" text-anchor="end" fill="#333" stroke="#333" stroke-width="0.1">40</text>
<line x1="32" y1="485" x2="35.3" y2="485" stroke="#3a3a3a" stroke-width="0.8"/>
<text x="30.5" y="487.4" font-size="7" text-anchor="end" fill="#333" stroke="#333" stroke-width="0.1">60</text>
<line x1="32" y1="462.5" x2="35.3" y2="462.5" stroke="#3a3a3a" stroke-width="0.8"/>
<text x="30.5" y="464.9" font-size="7" text-anchor="end" fill="#333" stroke="#333" stroke-width="0.1">80</text>
<line x1="35.3" y1="552.5" x2="106.6" y2="552.5" stroke="#3a3a3a" stroke-width="0.8"/>
<text x="0" y="449.9" font-size="7.3" text-anchor="middle" transform="translate(0 449.9) scale(1.000 1.180) translate(0 -449.9)" stroke="#231f20" stroke-width="0.1"></text>
<rect x="39.65" y="520.55" width="8.2" height="20.81" fill="url(#hc)"/>
<rect x="39.65" y="541.36" width="8.2" height="11.14" fill="#6698d4"/>
<rect x="39.65" y="520.55" width="8.2" height="31.95" fill="none" stroke="#4a4a4a" stroke-width="0.6"/>
<line x1="39.65" y1="541.36" x2="47.85" y2="541.36" stroke="#222" stroke-width="0.7"/>
<rect x="48.85" y="498.5" width="8.2" height="54" fill="#ef6a52" stroke="#4a4a4a" stroke-width="0.6"/>
<rect x="58.05" y="531.69" width="8.2" height="20.81" fill="#d4d4d4" stroke="#4a4a4a" stroke-width="0.6"/>
<line x1="52.95" y1="552.5" x2="52.95" y2="555.8" stroke="#3a3a3a" stroke-width="0.8"/>
<circle cx="41.35" cy="520.55" r="1.25" fill="#111"/>
<circle cx="43.75" cy="519.95" r="1.25" fill="#111"/>
<circle cx="46.15" cy="520.95" r="1.25" fill="#111"/>
<circle cx="41.35" cy="541.36" r="1.25" fill="#111"/>
<circle cx="43.75" cy="540.76" r="1.25" fill="#111"/>
<circle cx="46.15" cy="541.76" r="1.25" fill="#111"/>
<circle cx="50.55" cy="498.5" r="1.25" fill="#111"/>
<circle cx="52.95" cy="497.9" r="1.25" fill="#111"/>
<circle cx="55.35" cy="498.9" r="1.25" fill="#111"/>
<circle cx="59.75" cy="531.69" r="1.25" fill="#111"/>
<circle cx="62.15" cy="531.09" r="1.25" fill="#111"/>
<circle cx="64.55" cy="532.09" r="1.25" fill="#111"/>
<text x="54.95" y="561.2" font-size="7.1" text-anchor="end" transform="rotate(-45 54.95 561.2) translate(54.95 561.2) scale(1.000 1.120) translate(-54.95 -561.2)" stroke="#231f20" stroke-width="0.1">pegRNA</text>
<rect x="75.85" y="476.11" width="8.2" height="19.91" fill="url(#hc)"/>
<rect x="75.85" y="496.02" width="8.2" height="56.48" fill="#6698d4"/>
<rect x="75.85" y="476.11" width="8.2" height="76.39" fill="none" stroke="#4a4a4a" stroke-width="0.6"/>
<line x1="75.85" y1="496.02" x2="84.05" y2="496.02" stroke="#222" stroke-width="0.7"/>
<rect x="85.05" y="541.81" width="8.2" height="10.69" fill="#ef6a52" stroke="#4a4a4a" stroke-width="0.6"/>
<rect x="94.25" y="535.06" width="8.2" height="17.44" fill="#d4d4d4" stroke="#4a4a4a" stroke-width="0.6"/>
<line x1="89.15" y1="552.5" x2="89.15" y2="555.8" stroke="#3a3a3a" stroke-width="0.8"/>
<circle cx="77.55" cy="476.11" r="1.25" fill="#111"/>
<circle cx="79.95" cy="475.51" r="1.25" fill="#111"/>
<circle cx="82.35" cy="476.51" r="1.25" fill="#111"/>
<circle cx="77.55" cy="496.02" r="1.25" fill="#111"/>
<circle cx="79.95" cy="495.42" r="1.25" fill="#111"/>
<circle cx="82.35" cy="496.42" r="1.25" fill="#111"/>
<circle cx="86.75" cy="541.81" r="1.25" fill="#111"/>
<circle cx="89.15" cy="541.21" r="1.25" fill="#111"/>
<circle cx="91.55" cy="542.21" r="1.25" fill="#111"/>
<circle cx="95.95" cy="535.06" r="1.25" fill="#111"/>
<circle cx="98.35" cy="534.46" r="1.25" fill="#111"/>
<circle cx="100.75" cy="535.46" r="1.25" fill="#111"/>
<text x="91.15" y="561.2" font-size="7.1" text-anchor="end" transform="rotate(-45 91.15 561.2) translate(91.15 561.2) scale(1.000 1.120) translate(-91.15 -561.2)" stroke="#231f20" stroke-width="0.1">C96Me-pegRNA</text>
<line x1="120.2" y1="552.9" x2="120.2" y2="462.5" stroke="#3a3a3a" stroke-width="0.8"/>
<line x1="116.9" y1="552.5" x2="120.2" y2="552.5" stroke="#3a3a3a" stroke-width="0.8"/>
<text x="115.4" y="554.9" font-size="7" text-anchor="end" fill="#333" stroke="#333" stroke-width="0.1">0</text>
<line x1="116.9" y1="530" x2="120.2" y2="530" stroke="#3a3a3a" stroke-width="0.8"/>
<text x="115.4" y="532.4" font-size="7" text-anchor="end" fill="#333" stroke="#333" stroke-width="0.1">20</text>
<line x1="116.9" y1="507.5" x2="120.2" y2="507.5" stroke="#3a3a3a" stroke-width="0.8"/>
<text x="115.4" y="509.9" font-size="7" text-anchor="end" fill="#333" stroke="#333" stroke-width="0.1">40</text>
<line x1="116.9" y1="485" x2="120.2" y2="485" stroke="#3a3a3a" stroke-width="0.8"/>
<text x="115.4" y="487.4" font-size="7" text-anchor="end" fill="#333" stroke="#333" stroke-width="0.1">60</text>
<line x1="116.9" y1="462.5" x2="120.2" y2="462.5" stroke="#3a3a3a" stroke-width="0.8"/>
<text x="115.4" y="464.9" font-size="7" text-anchor="end" fill="#333" stroke="#333" stroke-width="0.1">80</text>
<line x1="120.2" y1="552.5" x2="191.5" y2="552.5" stroke="#3a3a3a" stroke-width="0.8"/>
<text x="0" y="449.9" font-size="7.3" text-anchor="middle" transform="translate(0 449.9) scale(1.000 1.180) translate(0 -449.9)" stroke="#231f20" stroke-width="0.1"></text>
<rect x="124.55" y="528.09" width="8.2" height="16.09" fill="url(#hc)"/>
<rect x="124.55" y="544.17" width="8.2" height="8.33" fill="#6698d4"/>
<rect x="124.55" y="528.09" width="8.2" height="24.41" fill="none" stroke="#4a4a4a" stroke-width="0.6"/>
<line x1="124.55" y1="544.17" x2="132.75" y2="544.17" stroke="#222" stroke-width="0.7"/>
<rect x="133.75" y="503.34" width="8.2" height="49.16" fill="#ef6a52" stroke="#4a4a4a" stroke-width="0.6"/>
<rect x="142.95" y="530.45" width="8.2" height="22.05" fill="#d4d4d4" stroke="#4a4a4a" stroke-width="0.6"/>
<line x1="137.85" y1="552.5" x2="137.85" y2="555.8" stroke="#3a3a3a" stroke-width="0.8"/>
<circle cx="126.25" cy="528.09" r="1.25" fill="#111"/>
<circle cx="128.65" cy="527.49" r="1.25" fill="#111"/>
<circle cx="131.05" cy="528.49" r="1.25" fill="#111"/>
<circle cx="126.25" cy="544.17" r="1.25" fill="#111"/>
<circle cx="128.65" cy="543.57" r="1.25" fill="#111"/>
<circle cx="131.05" cy="544.57" r="1.25" fill="#111"/>
<circle cx="135.45" cy="503.34" r="1.25" fill="#111"/>
<circle cx="137.85" cy="502.74" r="1.25" fill="#111"/>
<circle cx="140.25" cy="503.74" r="1.25" fill="#111"/>
<circle cx="144.65" cy="530.45" r="1.25" fill="#111"/>
<circle cx="147.05" cy="529.85" r="1.25" fill="#111"/>
<circle cx="149.45" cy="530.85" r="1.25" fill="#111"/>
<text x="142.15" y="561.2" font-size="7.05" text-anchor="end" transform="rotate(-45 142.15 561.2) translate(142.15 561.2) scale(1.000 1.120) translate(-142.15 -561.2)" stroke="#231f20" stroke-width="0.1">pegRNA</text>
<rect x="160.75" y="479.82" width="8.2" height="18.9" fill="url(#hc)"/>
<rect x="160.75" y="498.73" width="8.2" height="53.77" fill="#6698d4"/>
<rect x="160.75" y="479.82" width="8.2" height="72.68" fill="none" stroke="#4a4a4a" stroke-width="0.6"/>
<line x1="160.75" y1="498.73" x2="168.95" y2="498.73" stroke="#222" stroke-width="0.7"/>
<rect x="169.95" y="545.64" width="8.2" height="6.86" fill="#ef6a52" stroke="#4a4a4a" stroke-width="0.6"/>
<rect x="179.15" y="531.01" width="8.2" height="21.49" fill="#d4d4d4" stroke="#4a4a4a" stroke-width="0.6"/>
<line x1="174.05" y1="552.5" x2="174.05" y2="555.8" stroke="#3a3a3a" stroke-width="0.8"/>
<circle cx="162.45" cy="479.82" r="1.25" fill="#111"/>
<circle cx="164.85" cy="479.22" r="1.25" fill="#111"/>
<circle cx="167.25" cy="480.22" r="1.25" fill="#111"/>
<circle cx="162.45" cy="498.73" r="1.25" fill="#111"/>
<circle cx="164.85" cy="498.12" r="1.25" fill="#111"/>
<circle cx="167.25" cy="499.12" r="1.25" fill="#111"/>
<circle cx="171.65" cy="545.64" r="1.25" fill="#111"/>
<circle cx="174.05" cy="545.04" r="1.25" fill="#111"/>
<circle cx="176.45" cy="546.04" r="1.25" fill="#111"/>
<circle cx="180.85" cy="531.01" r="1.25" fill="#111"/>
<circle cx="183.25" cy="530.41" r="1.25" fill="#111"/>
<circle cx="185.65" cy="531.41" r="1.25" fill="#111"/>
<text x="178.35" y="561.2" font-size="7.05" text-anchor="end" transform="rotate(-45 178.35 561.2) translate(178.35 561.2) scale(1.000 1.120) translate(-178.35 -561.2)" stroke="#231f20" stroke-width="0.1">C96Me-pegRNA</text>
<line x1="205.9" y1="552.9" x2="205.9" y2="462.5" stroke="#3a3a3a" stroke-width="0.8"/>
<line x1="202.6" y1="552.5" x2="205.9" y2="552.5" stroke="#3a3a3a" stroke-width="0.8"/>
<text x="201.1" y="554.9" font-size="7" text-anchor="end" fill="#333" stroke="#333" stroke-width="0.1">0</text>
<line x1="202.6" y1="530" x2="205.9" y2="530" stroke="#3a3a3a" stroke-width="0.8"/>
<text x="201.1" y="532.4" font-size="7" text-anchor="end" fill="#333" stroke="#333" stroke-width="0.1">20</text>
<line x1="202.6" y1="507.5" x2="205.9" y2="507.5" stroke="#3a3a3a" stroke-width="0.8"/>
<text x="201.1" y="509.9" font-size="7" text-anchor="end" fill="#333" stroke="#333" stroke-width="0.1">40</text>
<line x1="202.6" y1="485" x2="205.9" y2="485" stroke="#3a3a3a" stroke-width="0.8"/>
<text x="201.1" y="487.4" font-size="7" text-anchor="end" fill="#333" stroke="#333" stroke-width="0.1">60</text>
<line x1="202.6" y1="462.5" x2="205.9" y2="462.5" stroke="#3a3a3a" stroke-width="0.8"/>
<text x="201.1" y="464.9" font-size="7" text-anchor="end" fill="#333" stroke="#333" stroke-width="0.1">80</text>
<line x1="205.9" y1="552.5" x2="277.2" y2="552.5" stroke="#3a3a3a" stroke-width="0.8"/>
<text x="0" y="449.9" font-size="7.3" text-anchor="middle" transform="translate(0 449.9) scale(1.000 1.180) translate(0 -449.9)" stroke="#231f20" stroke-width="0.1"></text>
<rect x="210.25" y="507.5" width="8.2" height="23.29" fill="url(#hc)"/>
<rect x="210.25" y="530.79" width="8.2" height="21.71" fill="#6698d4"/>
<rect x="210.25" y="507.5" width="8.2" height="45" fill="none" stroke="#4a4a4a" stroke-width="0.6"/>
<line x1="210.25" y1="530.79" x2="218.45" y2="530.79" stroke="#222" stroke-width="0.7"/>
<rect x="219.45" y="515.6" width="8.2" height="36.9" fill="#ef6a52" stroke="#4a4a4a" stroke-width="0.6"/>
<rect x="228.65" y="537.65" width="8.2" height="14.85" fill="#d4d4d4" stroke="#4a4a4a" stroke-width="0.6"/>
<line x1="223.55" y1="552.5" x2="223.55" y2="555.8" stroke="#3a3a3a" stroke-width="0.8"/>
<circle cx="211.95" cy="507.5" r="1.25" fill="#111"/>
<circle cx="214.35" cy="506.9" r="1.25" fill="#111"/>
<circle cx="216.75" cy="507.9" r="1.25" fill="#111"/>
<circle cx="211.95" cy="530.79" r="1.25" fill="#111"/>
<circle cx="214.35" cy="530.19" r="1.25" fill="#111"/>
<circle cx="216.75" cy="531.19" r="1.25" fill="#111"/>
<circle cx="221.15" cy="515.6" r="1.25" fill="#111"/>
<circle cx="223.55" cy="515" r="1.25" fill="#111"/>
<circle cx="225.95" cy="516" r="1.25" fill="#111"/>
<circle cx="230.35" cy="537.65" r="1.25" fill="#111"/>
<circle cx="232.75" cy="537.05" r="1.25" fill="#111"/>
<circle cx="235.15" cy="538.05" r="1.25" fill="#111"/>
<text x="227.85" y="561.2" font-size="7.05" text-anchor="end" transform="rotate(-45 227.85 561.2) translate(227.85 561.2) scale(1.000 1.120) translate(-227.85 -561.2)" stroke="#231f20" stroke-width="0.1">pegRNA</text>
<rect x="246.45" y="474.09" width="8.2" height="22.16" fill="url(#hc)"/>
<rect x="246.45" y="496.25" width="8.2" height="56.25" fill="#6698d4"/>
<rect x="246.45" y="474.09" width="8.2" height="78.41" fill="none" stroke="#4a4a4a" stroke-width="0.6"/>
<line x1="246.45" y1="496.25" x2="254.65" y2="496.25" stroke="#222" stroke-width="0.7"/>
<rect x="255.65" y="549.58" width="8.2" height="2.92" fill="#ef6a52" stroke="#4a4a4a" stroke-width="0.6"/>
<rect x="264.85" y="540.8" width="8.2" height="11.7" fill="#d4d4d4" stroke="#4a4a4a" stroke-width="0.6"/>
<line x1="259.75" y1="552.5" x2="259.75" y2="555.8" stroke="#3a3a3a" stroke-width="0.8"/>
<circle cx="248.15" cy="474.09" r="1.25" fill="#111"/>
<circle cx="250.55" cy="473.49" r="1.25" fill="#111"/>
<circle cx="252.95" cy="474.49" r="1.25" fill="#111"/>
<circle cx="248.15" cy="496.25" r="1.25" fill="#111"/>
<circle cx="250.55" cy="495.65" r="1.25" fill="#111"/>
<circle cx="252.95" cy="496.65" r="1.25" fill="#111"/>
<circle cx="257.35" cy="549.58" r="1.25" fill="#111"/>
<circle cx="259.75" cy="548.98" r="1.25" fill="#111"/>
<circle cx="262.15" cy="549.98" r="1.25" fill="#111"/>
<circle cx="266.55" cy="540.8" r="1.25" fill="#111"/>
<circle cx="268.95" cy="540.2" r="1.25" fill="#111"/>
<circle cx="271.35" cy="541.2" r="1.25" fill="#111"/>
<text x="264.05" y="561.2" font-size="7.05" text-anchor="end" transform="rotate(-45 264.05 561.2) translate(264.05 561.2) scale(1.000 1.120) translate(-264.05 -561.2)" stroke="#231f20" stroke-width="0.1">C96Me-pegRNA</text>
<line x1="292.2" y1="552.9" x2="292.2" y2="462.5" stroke="#3a3a3a" stroke-width="0.8"/>
<line x1="288.9" y1="552.5" x2="292.2" y2="552.5" stroke="#3a3a3a" stroke-width="0.8"/>
<text x="287.4" y="554.9" font-size="7" text-anchor="end" fill="#333" stroke="#333" stroke-width="0.1">0</text>
<line x1="288.9" y1="530" x2="292.2" y2="530" stroke="#3a3a3a" stroke-width="0.8"/>
<text x="287.4" y="532.4" font-size="7" text-anchor="end" fill="#333" stroke="#333" stroke-width="0.1">10</text>
<line x1="288.9" y1="507.5" x2="292.2" y2="507.5" stroke="#3a3a3a" stroke-width="0.8"/>
<text x="287.4" y="509.9" font-size="7" text-anchor="end" fill="#333" stroke="#333" stroke-width="0.1">20</text>
<line x1="288.9" y1="485" x2="292.2" y2="485" stroke="#3a3a3a" stroke-width="0.8"/>
<text x="287.4" y="487.4" font-size="7" text-anchor="end" fill="#333" stroke="#333" stroke-width="0.1">30</text>
<line x1="288.9" y1="462.5" x2="292.2" y2="462.5" stroke="#3a3a3a" stroke-width="0.8"/>
<text x="287.4" y="464.9" font-size="7" text-anchor="end" fill="#333" stroke="#333" stroke-width="0.1">40</text>
<line x1="292.2" y1="552.5" x2="363.5" y2="552.5" stroke="#3a3a3a" stroke-width="0.8"/>
<text x="0" y="449.9" font-size="7.3" text-anchor="middle" transform="translate(0 449.9) scale(1.000 1.180) translate(0 -449.9)" stroke="#231f20" stroke-width="0.1"></text>
<rect x="296.55" y="497.6" width="8.2" height="21.15" fill="url(#hc)"/>
<rect x="296.55" y="518.75" width="8.2" height="33.75" fill="#6698d4"/>
<rect x="296.55" y="497.6" width="8.2" height="54.9" fill="none" stroke="#4a4a4a" stroke-width="0.6"/>
<line x1="296.55" y1="518.75" x2="304.75" y2="518.75" stroke="#222" stroke-width="0.7"/>
<rect x="305.75" y="525.73" width="8.2" height="26.77" fill="#ef6a52" stroke="#4a4a4a" stroke-width="0.6"/>
<rect x="314.95" y="531.8" width="8.2" height="20.7" fill="#d4d4d4" stroke="#4a4a4a" stroke-width="0.6"/>
<line x1="309.85" y1="552.5" x2="309.85" y2="555.8" stroke="#3a3a3a" stroke-width="0.8"/>
<text x="312.75" y="561.2" font-size="7.05" text-anchor="end" transform="rotate(-45 312.75 561.2) translate(312.75 561.2) scale(1.000 1.120) translate(-312.75 -561.2)" stroke="#231f20" stroke-width="0.1">pegRNA</text>
<rect x="332.75" y="485.23" width="8.2" height="19.8" fill="url(#hc)"/>
<rect x="332.75" y="505.02" width="8.2" height="47.48" fill="#6698d4"/>
<rect x="332.75" y="485.23" width="8.2" height="67.27" fill="none" stroke="#4a4a4a" stroke-width="0.6"/>
<line x1="332.75" y1="505.02" x2="340.95" y2="505.02" stroke="#222" stroke-width="0.7"/>
<rect x="341.95" y="550.7" width="8.2" height="1.8" fill="#ef6a52" stroke="#4a4a4a" stroke-width="0.6"/>
<rect x="351.15" y="534.73" width="8.2" height="17.77" fill="#d4d4d4" stroke="#4a4a4a" stroke-width="0.6"/>
<line x1="346.05" y1="552.5" x2="346.05" y2="555.8" stroke="#3a3a3a" stroke-width="0.8"/>
<text x="348.95" y="561.2" font-size="7.05" text-anchor="end" transform="rotate(-45 348.95 561.2) translate(348.95 561.2) scale(1.000 1.120) translate(-348.95 -561.2)" stroke="#231f20" stroke-width="0.1">C96Me-pegRNA</text>
<line x1="300.7" y1="368.8" x2="300.7" y2="382.6" stroke="#111" stroke-width="0.7"/>
<line x1="298.1" y1="368.8" x2="303.3" y2="368.8" stroke="#111" stroke-width="0.7"/>
<line x1="298.1" y1="382.6" x2="303.3" y2="382.6" stroke="#111" stroke-width="0.7"/>
<line x1="309.9" y1="363.7" x2="309.9" y2="374.7" stroke="#111" stroke-width="0.7"/>
<line x1="307.3" y1="363.7" x2="312.5" y2="363.7" stroke="#111" stroke-width="0.7"/>
<line x1="307.3" y1="374.7" x2="312.5" y2="374.7" stroke="#111" stroke-width="0.7"/>
<line x1="337.3" y1="333.9" x2="337.3" y2="356" stroke="#111" stroke-width="0.7"/>
<line x1="334.7" y1="333.9" x2="339.9" y2="333.9" stroke="#111" stroke-width="0.7"/>
<line x1="334.7" y1="356" x2="339.9" y2="356" stroke="#111" stroke-width="0.7"/>
<circle cx="300.7" cy="365.5" r="1.1" fill="#111"/>
<circle cx="298.5" cy="372" r="1.1" fill="#111"/>
<circle cx="303" cy="375" r="1.1" fill="#111"/>
<circle cx="300.7" cy="378" r="1.1" fill="#111"/>
<circle cx="298.5" cy="380.5" r="1.1" fill="#111"/>
<circle cx="300.7" cy="384.5" r="1.1" fill="#111"/>
<circle cx="309.9" cy="359.6" r="1.1" fill="#111"/>
<circle cx="307.8" cy="369.8" r="1.1" fill="#111"/>
<circle cx="309.9" cy="377.7" r="1.1" fill="#111"/>
<circle cx="318.5" cy="405.8" r="1.1" fill="#111"/>
<circle cx="320.8" cy="406.4" r="1.1" fill="#111"/>
<circle cx="316.3" cy="406.6" r="1.1" fill="#111"/>
<circle cx="337.3" cy="328.8" r="1.1" fill="#111"/>
<circle cx="337.3" cy="340.6" r="1.1" fill="#111"/>
<circle cx="335" cy="345" r="1.1" fill="#111"/>
<circle cx="339.5" cy="348" r="1.1" fill="#111"/>
<circle cx="337" cy="355" r="1.1" fill="#111"/>
<circle cx="337.3" cy="361.5" r="1.1" fill="#111"/>
<circle cx="346.3" cy="407.6" r="1.1" fill="#111"/>
<circle cx="348.5" cy="407.2" r="1.1" fill="#111"/>
<circle cx="344.2" cy="408" r="1.1" fill="#111"/>
<circle cx="355.5" cy="403.8" r="1.1" fill="#111"/>
<circle cx="357.6" cy="403" r="1.1" fill="#111"/>
<circle cx="353.4" cy="404.5" r="1.1" fill="#111"/>
<line x1="301.5" y1="490.4" x2="301.5" y2="517.6" stroke="#111" stroke-width="0.7"/>
<line x1="298.9" y1="490.4" x2="304.1" y2="490.4" stroke="#111" stroke-width="0.7"/>
<line x1="298.9" y1="517.6" x2="304.1" y2="517.6" stroke="#111" stroke-width="0.7"/>
<line x1="310.6" y1="521.1" x2="310.6" y2="529.3" stroke="#111" stroke-width="0.7"/>
<line x1="308" y1="521.1" x2="313.2" y2="521.1" stroke="#111" stroke-width="0.7"/>
<line x1="308" y1="529.3" x2="313.2" y2="529.3" stroke="#111" stroke-width="0.7"/>
<line x1="319.8" y1="528.4" x2="319.8" y2="535.7" stroke="#111" stroke-width="0.7"/>
<line x1="317.2" y1="528.4" x2="322.4" y2="528.4" stroke="#111" stroke-width="0.7"/>
<line x1="317.2" y1="535.7" x2="322.4" y2="535.7" stroke="#111" stroke-width="0.7"/>
<line x1="337.6" y1="482.5" x2="337.6" y2="488.5" stroke="#111" stroke-width="0.7"/>
<line x1="335" y1="482.5" x2="340.2" y2="482.5" stroke="#111" stroke-width="0.7"/>
<line x1="335" y1="488.5" x2="340.2" y2="488.5" stroke="#111" stroke-width="0.7"/>
<line x1="337.6" y1="502.5" x2="337.6" y2="507.5" stroke="#111" stroke-width="0.7"/>
<line x1="335" y1="502.5" x2="340.2" y2="502.5" stroke="#111" stroke-width="0.7"/>
<line x1="335" y1="507.5" x2="340.2" y2="507.5" stroke="#111" stroke-width="0.7"/>
<circle cx="301.5" cy="484.6" r="1.1" fill="#111"/>
<circle cx="301.5" cy="493" r="1.1" fill="#111"/>
<circle cx="299.5" cy="499" r="1.1" fill="#111"/>
<circle cx="303" cy="505" r="1.1" fill="#111"/>
<circle cx="301.5" cy="511" r="1.1" fill="#111"/>
<circle cx="299.8" cy="517" r="1.1" fill="#111"/>
<circle cx="301.5" cy="522.8" r="1.1" fill="#111"/>
<circle cx="310.6" cy="518.5" r="1.1" fill="#111"/>
<circle cx="308.6" cy="528" r="1.1" fill="#111"/>
<circle cx="312.6" cy="528" r="1.1" fill="#111"/>
<circle cx="319.8" cy="525.8" r="1.1" fill="#111"/>
<circle cx="319.8" cy="533.6" r="1.1" fill="#111"/>
<circle cx="319.8" cy="531" r="1.1" fill="#111"/>
<circle cx="337.6" cy="481.5" r="1.1" fill="#111"/>
<circle cx="337.6" cy="486.5" r="1.1" fill="#111"/>
<circle cx="336" cy="485" r="1.1" fill="#111"/>
<circle cx="336.5" cy="503.5" r="1.1" fill="#111"/>
<circle cx="338.8" cy="507" r="1.1" fill="#111"/>
<circle cx="346.6" cy="550.2" r="1.1" fill="#111"/>
<circle cx="344.5" cy="550.8" r="1.1" fill="#111"/>
<circle cx="348.7" cy="550.8" r="1.1" fill="#111"/>
<circle cx="355.8" cy="534.6" r="1.1" fill="#111"/>
<circle cx="357.8" cy="534.2" r="1.1" fill="#111"/>
<circle cx="353.8" cy="535" r="1.1" fill="#111"/>
<text x="6.6" y="368.5" font-size="9.1" text-anchor="middle" transform="rotate(-90 6.6 368.5)" stroke="none"><tspan font-style="italic">PCSK9</tspan> 1 bp ins.</text>
<text x="18.9" y="361.5" font-size="7.35" text-anchor="middle" transform="rotate(-90 18.9 361.5) translate(18.9 361.5) scale(1.000 1.070) translate(-18.9 -361.5)" stroke="#231f20" stroke-width="0.1">Reads with indicated edit (%)</text>
<text x="6.6" y="507.3" font-size="9.1" text-anchor="middle" transform="rotate(-90 6.6 507.3)" stroke="none"><tspan font-style="italic">HBEGF</tspan> 6 bp ins.</text>
<text x="18.3" y="501" font-size="7.35" text-anchor="middle" transform="rotate(-90 18.3 501) translate(18.3 501) scale(1.000 1.070) translate(-18.3 -501)" stroke="#231f20" stroke-width="0.1">Reads with indicated edit (%)</text>
<text x="374.9" y="294.8" font-size="21">d</text>
<text x="433.1" y="302.7" font-size="7.2" transform="translate(433.1 302.7) scale(1.000 1.170) translate(-433.1 -302.7)" stroke="#231f20" stroke-width="0.1">All cell lines</text>
<line x1="393.4" y1="413.8" x2="393.4" y2="324" stroke="#3a3a3a" stroke-width="0.8"/>
<line x1="390.1" y1="413.4" x2="393.4" y2="413.4" stroke="#3a3a3a" stroke-width="0.8"/>
<text x="388.4" y="415.7" font-size="6.5" text-anchor="end" fill="#333" stroke="#333" stroke-width="0.1">0</text>
<line x1="390.1" y1="391.05" x2="393.4" y2="391.05" stroke="#3a3a3a" stroke-width="0.8"/>
<text x="388.4" y="393.35" font-size="6.5" text-anchor="end" fill="#333" stroke="#333" stroke-width="0.1">25</text>
<line x1="390.1" y1="368.7" x2="393.4" y2="368.7" stroke="#3a3a3a" stroke-width="0.8"/>
<text x="388.4" y="371" font-size="6.5" text-anchor="end" fill="#333" stroke="#333" stroke-width="0.1">50</text>
<line x1="390.1" y1="346.35" x2="393.4" y2="346.35" stroke="#3a3a3a" stroke-width="0.8"/>
<text x="388.4" y="348.65" font-size="6.5" text-anchor="end" fill="#333" stroke="#333" stroke-width="0.1">75</text>
<line x1="390.1" y1="324" x2="393.4" y2="324" stroke="#3a3a3a" stroke-width="0.8"/>
<text x="388.4" y="326.3" font-size="6.5" text-anchor="end" fill="#333" stroke="#333" stroke-width="0.1">100</text>
<line x1="393.4" y1="413.4" x2="438.5" y2="413.4" stroke="#3a3a3a" stroke-width="0.8"/>
<line x1="405.5" y1="413.4" x2="405.5" y2="416.7" stroke="#3a3a3a" stroke-width="0.8"/>
<line x1="425.2" y1="413.4" x2="425.2" y2="416.7" stroke="#3a3a3a" stroke-width="0.8"/>
<line x1="406.1" y1="326.5" x2="425.3" y2="326.5" stroke="#333" stroke-width="0.8"/>
<text x="415.9" y="327.6" font-size="9.5" text-anchor="middle" fill="#333" letter-spacing="0.4">**</text>
<line x1="399.8" y1="393.3" x2="412.4" y2="393.3" stroke="#a0a0a0" stroke-width="1"/>
<line x1="406.1" y1="383.5" x2="406.1" y2="402.9" stroke="#444" stroke-width="0.8"/>
<line x1="403.3" y1="383.5" x2="408.9" y2="383.5" stroke="#444" stroke-width="0.8"/>
<line x1="403.3" y1="402.9" x2="408.9" y2="402.9" stroke="#444" stroke-width="0.8"/>
<circle cx="405.9" cy="379.9" r="1.55" fill="#111"/>
<circle cx="405.9" cy="392.5" r="1.55" fill="#111"/>
<circle cx="408.8" cy="398.9" r="1.55" fill="#111"/>
<circle cx="403.2" cy="401.6" r="1.55" fill="#111"/>
<line x1="419.3" y1="355" x2="431.9" y2="355" stroke="#a0a0a0" stroke-width="1"/>
<line x1="425.6" y1="345.6" x2="425.6" y2="364.4" stroke="#444" stroke-width="0.8"/>
<line x1="422.8" y1="345.6" x2="428.4" y2="345.6" stroke="#444" stroke-width="0.8"/>
<line x1="422.8" y1="364.4" x2="428.4" y2="364.4" stroke="#444" stroke-width="0.8"/>
<circle cx="425.6" cy="347.8" r="1.55" fill="#e8196c"/>
<circle cx="422.6" cy="350.4" r="1.55" fill="#e8196c"/>
<circle cx="428.2" cy="353" r="1.55" fill="#e8196c"/>
<circle cx="425.3" cy="368.8" r="1.55" fill="#e8196c"/>
<text x="409.3" y="421.8" font-size="7" text-anchor="end" transform="rotate(-45 409.3 421.8) translate(409.3 421.8) scale(1.000 1.120) translate(-409.3 -421.8)" stroke="#231f20" stroke-width="0.1">pegRNA</text>
<text x="429" y="421.8" font-size="7" text-anchor="end" transform="rotate(-45 429 421.8) translate(429 421.8) scale(1.000 1.120) translate(-429 -421.8)" stroke="#231f20" stroke-width="0.1">C96Me-pegRNA</text>
<line x1="466.4" y1="413.8" x2="466.4" y2="323.8" stroke="#3a3a3a" stroke-width="0.8"/>
<line x1="463.1" y1="413.4" x2="466.4" y2="413.4" stroke="#3a3a3a" stroke-width="0.8"/>
<text x="461.4" y="415.7" font-size="6.5" text-anchor="end" fill="#333" stroke="#333" stroke-width="0.1">0</text>
<line x1="463.1" y1="391" x2="466.4" y2="391" stroke="#3a3a3a" stroke-width="0.8"/>
<text x="461.4" y="393.3" font-size="6.5" text-anchor="end" fill="#333" stroke="#333" stroke-width="0.1">25</text>
<line x1="463.1" y1="368.6" x2="466.4" y2="368.6" stroke="#3a3a3a" stroke-width="0.8"/>
<text x="461.4" y="370.9" font-size="6.5" text-anchor="end" fill="#333" stroke="#333" stroke-width="0.1">50</text>
<line x1="463.1" y1="346.2" x2="466.4" y2="346.2" stroke="#3a3a3a" stroke-width="0.8"/>
<text x="461.4" y="348.5" font-size="6.5" text-anchor="end" fill="#333" stroke="#333" stroke-width="0.1">75</text>
<line x1="463.1" y1="323.8" x2="466.4" y2="323.8" stroke="#3a3a3a" stroke-width="0.8"/>
<text x="461.4" y="326.1" font-size="6.5" text-anchor="end" fill="#333" stroke="#333" stroke-width="0.1">100</text>
<line x1="466.4" y1="413.4" x2="511.8" y2="413.4" stroke="#3a3a3a" stroke-width="0.8"/>
<line x1="479.2" y1="413.4" x2="479.2" y2="416.7" stroke="#3a3a3a" stroke-width="0.8"/>
<line x1="498.5" y1="413.4" x2="498.5" y2="416.7" stroke="#3a3a3a" stroke-width="0.8"/>
<line x1="479" y1="326.2" x2="498.5" y2="326.2" stroke="#333" stroke-width="0.8"/>
<text x="488.95" y="327.3" font-size="9.5" text-anchor="middle" fill="#333" letter-spacing="0.4">***</text>
<line x1="472.9" y1="349.9" x2="485.5" y2="349.9" stroke="#a0a0a0" stroke-width="1"/>
<line x1="479.2" y1="337.9" x2="479.2" y2="362" stroke="#444" stroke-width="0.8"/>
<line x1="476.4" y1="337.9" x2="482" y2="337.9" stroke="#444" stroke-width="0.8"/>
<line x1="476.4" y1="362" x2="482" y2="362" stroke="#444" stroke-width="0.8"/>
<circle cx="479.2" cy="339.4" r="1.55" fill="#111"/>
<circle cx="479.2" cy="343.1" r="1.55" fill="#111"/>
<circle cx="479.2" cy="350.4" r="1.55" fill="#111"/>
<circle cx="479.2" cy="366.6" r="1.55" fill="#111"/>
<line x1="492.2" y1="399.5" x2="504.8" y2="399.5" stroke="#a0a0a0" stroke-width="1"/>
<line x1="498.5" y1="390.3" x2="498.5" y2="408.3" stroke="#444" stroke-width="0.8"/>
<line x1="495.7" y1="390.3" x2="501.3" y2="390.3" stroke="#444" stroke-width="0.8"/>
<line x1="495.7" y1="408.3" x2="501.3" y2="408.3" stroke="#444" stroke-width="0.8"/>
<circle cx="498.5" cy="386.3" r="1.55" fill="#e8196c"/>
<circle cx="498.5" cy="399.5" r="1.55" fill="#e8196c"/>
<circle cx="498.5" cy="403.4" r="1.55" fill="#e8196c"/>
<circle cx="498.5" cy="407.4" r="1.55" fill="#e8196c"/>
<text x="483" y="421.8" font-size="7" text-anchor="end" transform="rotate(-45 483 421.8) translate(483 421.8) scale(1.000 1.120) translate(-483 -421.8)" stroke="#231f20" stroke-width="0.1">pegRNA</text>
<text x="502.3" y="421.8" font-size="7" text-anchor="end" transform="rotate(-45 502.3 421.8) translate(502.3 421.8) scale(1.000 1.120) translate(-502.3 -421.8)" stroke="#231f20" stroke-width="0.1">C96Me-pegRNA</text>
<line x1="393.3" y1="552.8" x2="393.3" y2="462.5" stroke="#3a3a3a" stroke-width="0.8"/>
<line x1="390" y1="552.4" x2="393.3" y2="552.4" stroke="#3a3a3a" stroke-width="0.8"/>
<text x="388.3" y="554.7" font-size="6.5" text-anchor="end" fill="#333" stroke="#333" stroke-width="0.1">0</text>
<line x1="390" y1="529.92" x2="393.3" y2="529.92" stroke="#3a3a3a" stroke-width="0.8"/>
<text x="388.3" y="532.22" font-size="6.5" text-anchor="end" fill="#333" stroke="#333" stroke-width="0.1">25</text>
<line x1="390" y1="507.45" x2="393.3" y2="507.45" stroke="#3a3a3a" stroke-width="0.8"/>
<text x="388.3" y="509.75" font-size="6.5" text-anchor="end" fill="#333" stroke="#333" stroke-width="0.1">50</text>
<line x1="390" y1="484.98" x2="393.3" y2="484.98" stroke="#3a3a3a" stroke-width="0.8"/>
<text x="388.3" y="487.28" font-size="6.5" text-anchor="end" fill="#333" stroke="#333" stroke-width="0.1">75</text>
<line x1="390" y1="462.5" x2="393.3" y2="462.5" stroke="#3a3a3a" stroke-width="0.8"/>
<text x="388.3" y="464.8" font-size="6.5" text-anchor="end" fill="#333" stroke="#333" stroke-width="0.1">100</text>
<line x1="393.3" y1="552.4" x2="438.5" y2="552.4" stroke="#3a3a3a" stroke-width="0.8"/>
<line x1="406.4" y1="552.4" x2="406.4" y2="555.7" stroke="#3a3a3a" stroke-width="0.8"/>
<line x1="425.7" y1="552.4" x2="425.7" y2="555.7" stroke="#3a3a3a" stroke-width="0.8"/>
<line x1="406.2" y1="466.2" x2="425.7" y2="466.2" stroke="#333" stroke-width="0.8"/>
<text x="416.15" y="467.3" font-size="9.5" text-anchor="middle" fill="#333" letter-spacing="0.4">**</text>
<line x1="400.1" y1="536" x2="412.7" y2="536" stroke="#a0a0a0" stroke-width="1"/>
<line x1="406.4" y1="525.9" x2="406.4" y2="546.1" stroke="#444" stroke-width="0.8"/>
<line x1="403.6" y1="525.9" x2="409.2" y2="525.9" stroke="#444" stroke-width="0.8"/>
<line x1="403.6" y1="546.1" x2="409.2" y2="546.1" stroke="#444" stroke-width="0.8"/>
<circle cx="406.4" cy="523.2" r="1.55" fill="#111"/>
<circle cx="406.4" cy="532.7" r="1.55" fill="#111"/>
<circle cx="404" cy="544.7" r="1.55" fill="#111"/>
<circle cx="409.2" cy="544.1" r="1.55" fill="#111"/>
<line x1="419.4" y1="503.3" x2="432" y2="503.3" stroke="#a0a0a0" stroke-width="1"/>
<line x1="425.7" y1="500" x2="425.7" y2="504.2" stroke="#444" stroke-width="0.8"/>
<line x1="422.9" y1="500" x2="428.5" y2="500" stroke="#444" stroke-width="0.8"/>
<line x1="422.9" y1="504.2" x2="428.5" y2="504.2" stroke="#444" stroke-width="0.8"/>
<circle cx="425.7" cy="499.6" r="1.55" fill="#e8196c"/>
<circle cx="421.5" cy="504.2" r="1.55" fill="#e8196c"/>
<circle cx="430.7" cy="504.2" r="1.55" fill="#e8196c"/>
<circle cx="425.7" cy="503.8" r="1.55" fill="#e8196c"/>
<text x="410.2" y="561.2" font-size="7" text-anchor="end" transform="rotate(-45 410.2 561.2) translate(410.2 561.2) scale(1.000 1.120) translate(-410.2 -561.2)" stroke="#231f20" stroke-width="0.1">pegRNA</text>
<text x="429.5" y="561.2" font-size="7" text-anchor="end" transform="rotate(-45 429.5 561.2) translate(429.5 561.2) scale(1.000 1.120) translate(-429.5 -561.2)" stroke="#231f20" stroke-width="0.1">C96Me-pegRNA</text>
<line x1="466.9" y1="552.8" x2="466.9" y2="462.5" stroke="#3a3a3a" stroke-width="0.8"/>
<line x1="463.6" y1="552.4" x2="466.9" y2="552.4" stroke="#3a3a3a" stroke-width="0.8"/>
<text x="461.9" y="554.7" font-size="6.5" text-anchor="end" fill="#333" stroke="#333" stroke-width="0.1">0</text>
<line x1="463.6" y1="529.92" x2="466.9" y2="529.92" stroke="#3a3a3a" stroke-width="0.8"/>
<text x="461.9" y="532.22" font-size="6.5" text-anchor="end" fill="#333" stroke="#333" stroke-width="0.1">25</text>
<line x1="463.6" y1="507.45" x2="466.9" y2="507.45" stroke="#3a3a3a" stroke-width="0.8"/>
<text x="461.9" y="509.75" font-size="6.5" text-anchor="end" fill="#333" stroke="#333" stroke-width="0.1">50</text>
<line x1="463.6" y1="484.98" x2="466.9" y2="484.98" stroke="#3a3a3a" stroke-width="0.8"/>
<text x="461.9" y="487.28" font-size="6.5" text-anchor="end" fill="#333" stroke="#333" stroke-width="0.1">75</text>
<line x1="463.6" y1="462.5" x2="466.9" y2="462.5" stroke="#3a3a3a" stroke-width="0.8"/>
<text x="461.9" y="464.8" font-size="6.5" text-anchor="end" fill="#333" stroke="#333" stroke-width="0.1">100</text>
<line x1="466.9" y1="552.4" x2="512.5" y2="552.4" stroke="#3a3a3a" stroke-width="0.8"/>
<line x1="479.5" y1="552.4" x2="479.5" y2="555.7" stroke="#3a3a3a" stroke-width="0.8"/>
<line x1="499.2" y1="552.4" x2="499.2" y2="555.7" stroke="#3a3a3a" stroke-width="0.8"/>
<line x1="480.1" y1="466.2" x2="499.7" y2="466.2" stroke="#333" stroke-width="0.8"/>
<text x="490.1" y="467.3" font-size="9.5" text-anchor="middle" fill="#333" letter-spacing="0.4">**</text>
<line x1="473.2" y1="505.7" x2="485.8" y2="505.7" stroke="#a0a0a0" stroke-width="1"/>
<line x1="479.5" y1="491.4" x2="479.5" y2="520.2" stroke="#444" stroke-width="0.8"/>
<line x1="476.7" y1="491.4" x2="482.3" y2="491.4" stroke="#444" stroke-width="0.8"/>
<line x1="476.7" y1="520.2" x2="482.3" y2="520.2" stroke="#444" stroke-width="0.8"/>
<circle cx="479.5" cy="491.4" r="1.55" fill="#111"/>
<circle cx="479.5" cy="496" r="1.55" fill="#111"/>
<circle cx="479.5" cy="512.5" r="1.55" fill="#111"/>
<circle cx="479.5" cy="523.2" r="1.55" fill="#111"/>
<line x1="492.9" y1="546" x2="505.5" y2="546" stroke="#a0a0a0" stroke-width="1"/>
<line x1="499.2" y1="542.5" x2="499.2" y2="550.7" stroke="#444" stroke-width="0.8"/>
<line x1="496.4" y1="542.5" x2="502" y2="542.5" stroke="#444" stroke-width="0.8"/>
<line x1="496.4" y1="550.7" x2="502" y2="550.7" stroke="#444" stroke-width="0.8"/>
<circle cx="499.2" cy="541" r="1.55" fill="#e8196c"/>
<circle cx="497" cy="550.2" r="1.55" fill="#e8196c"/>
<circle cx="502.1" cy="549.3" r="1.55" fill="#e8196c"/>
<circle cx="499.2" cy="546" r="1.55" fill="#e8196c"/>
<text x="483.3" y="561.2" font-size="7" text-anchor="end" transform="rotate(-45 483.3 561.2) translate(483.3 561.2) scale(1.000 1.120) translate(-483.3 -561.2)" stroke="#231f20" stroke-width="0.1">pegRNA</text>
<text x="503" y="561.2" font-size="7" text-anchor="end" transform="rotate(-45 503 561.2) translate(503 561.2) scale(1.000 1.120) translate(-503 -561.2)" stroke="#231f20" stroke-width="0.1">C96Me-pegRNA</text>
<text x="377.4" y="364.4" font-size="7.3" text-anchor="middle" transform="rotate(-90 377.4 364.4)" stroke="#231f20" stroke-width="0.1">Precision score (%)</text>
<text x="448.4" y="366.8" font-size="7.3" text-anchor="middle" transform="rotate(-90 448.4 366.8)" stroke="#231f20" stroke-width="0.1">Prime edits containing scaffold (%)</text>
<text x="378.3" y="503.4" font-size="7.3" text-anchor="middle" transform="rotate(-90 378.3 503.4)" stroke="#231f20" stroke-width="0.1">Precision score (%)</text>
<text x="450" y="500.2" font-size="7.3" text-anchor="middle" transform="rotate(-90 450 500.2)" stroke="#231f20" stroke-width="0.1">Prime edits containing scaffold (%)</text>
<text x="519.7" y="296" font-size="21">e</text>
<text x="558.5" y="294.9" font-size="9.9" transform="translate(558.5 294.9) scale(1.000 1.130) translate(-558.5 -294.9)">PRINS</text>
<text x="563.6" y="310.6" font-size="8.68"><tspan font-style="italic">Map3k15</tspan> 5 bp ins. AML12 cells</text>
<line x1="558.4" y1="435.8" x2="558.4" y2="311" stroke="#3a3a3a" stroke-width="0.8"/>
<line x1="554.8" y1="435.4" x2="558.4" y2="435.4" stroke="#3a3a3a" stroke-width="0.8"/>
<text x="552.4" y="438.4" font-size="7.8" text-anchor="end" fill="#333" transform="translate(552.4 438.4) scale(1.000 1.080) translate(-552.4 -438.4)" stroke="#333" stroke-width="0.1">0</text>
<line x1="554.8" y1="410.5" x2="558.4" y2="410.5" stroke="#3a3a3a" stroke-width="0.8"/>
<text x="552.4" y="413.5" font-size="7.8" text-anchor="end" fill="#333" transform="translate(552.4 413.5) scale(1.000 1.080) translate(-552.4 -413.5)" stroke="#333" stroke-width="0.1">10</text>
<line x1="554.8" y1="385.6" x2="558.4" y2="385.6" stroke="#3a3a3a" stroke-width="0.8"/>
<text x="552.4" y="388.6" font-size="7.8" text-anchor="end" fill="#333" transform="translate(552.4 388.6) scale(1.000 1.080) translate(-552.4 -388.6)" stroke="#333" stroke-width="0.1">20</text>
<line x1="554.8" y1="360.7" x2="558.4" y2="360.7" stroke="#3a3a3a" stroke-width="0.8"/>
<text x="552.4" y="363.7" font-size="7.8" text-anchor="end" fill="#333" transform="translate(552.4 363.7) scale(1.000 1.080) translate(-552.4 -363.7)" stroke="#333" stroke-width="0.1">30</text>
<line x1="554.8" y1="335.8" x2="558.4" y2="335.8" stroke="#3a3a3a" stroke-width="0.8"/>
<text x="552.4" y="338.8" font-size="7.8" text-anchor="end" fill="#333" transform="translate(552.4 338.8) scale(1.000 1.080) translate(-552.4 -338.8)" stroke="#333" stroke-width="0.1">40</text>
<line x1="554.8" y1="310.9" x2="558.4" y2="310.9" stroke="#3a3a3a" stroke-width="0.8"/>
<text x="552.4" y="313.9" font-size="7.8" text-anchor="end" fill="#333" transform="translate(552.4 313.9) scale(1.000 1.080) translate(-552.4 -313.9)" stroke="#333" stroke-width="0.1">50</text>
<line x1="558.4" y1="435.4" x2="685" y2="435.4" stroke="#3a3a3a" stroke-width="0.8"/>
<text x="538.2" y="368" font-size="7.25" text-anchor="middle" transform="rotate(-90 538.2 368)" stroke="#231f20" stroke-width="0.1">Reads with indicated edit (%)</text>
<rect x="562.7" y="373.15" width="7.3" height="42.83" fill="url(#hd)"/>
<rect x="562.7" y="415.98" width="7.3" height="19.42" fill="#6698d4"/>
<rect x="562.7" y="373.15" width="7.3" height="62.25" fill="none" stroke="#4a4a4a" stroke-width="0.6"/>
<line x1="562.7" y1="415.98" x2="570" y2="415.98" stroke="#333" stroke-width="0.6"/>
<rect x="570.7" y="380.62" width="7.3" height="54.78" fill="#ef6a52" stroke="#4a4a4a" stroke-width="0.6"/>
<rect x="578.7" y="388.09" width="7.3" height="47.31" fill="#d4d4d4" stroke="#4a4a4a" stroke-width="0.6"/>
<line x1="574.3" y1="435.4" x2="574.3" y2="439.6" stroke="#3a3a3a" stroke-width="0.8"/>
<circle cx="565.09" cy="416.72" r="1.3" fill="#111"/>
<circle cx="566.56" cy="416.43" r="1.3" fill="#111"/>
<circle cx="565.73" cy="416.13" r="1.3" fill="#111"/>
<circle cx="566.85" cy="415.83" r="1.3" fill="#111"/>
<circle cx="566.95" cy="415.53" r="1.3" fill="#111"/>
<circle cx="564.26" cy="415.23" r="1.3" fill="#111"/>
<line x1="566.35" y1="368.29" x2="566.35" y2="378.01" stroke="#111" stroke-width="0.8"/>
<line x1="563.95" y1="368.29" x2="568.75" y2="368.29" stroke="#111" stroke-width="0.8"/>
<line x1="563.95" y1="378.01" x2="568.75" y2="378.01" stroke="#111" stroke-width="0.8"/>
<circle cx="564.79" cy="379.62" r="1.3" fill="#111"/>
<circle cx="567.43" cy="377.03" r="1.3" fill="#111"/>
<circle cx="565.58" cy="374.44" r="1.3" fill="#111"/>
<circle cx="565.5" cy="371.86" r="1.3" fill="#111"/>
<circle cx="567.94" cy="369.27" r="1.3" fill="#111"/>
<circle cx="566.25" cy="366.68" r="1.3" fill="#111"/>
<line x1="574.35" y1="377.63" x2="574.35" y2="383.61" stroke="#111" stroke-width="0.8"/>
<line x1="571.95" y1="377.63" x2="576.75" y2="377.63" stroke="#111" stroke-width="0.8"/>
<line x1="571.95" y1="383.61" x2="576.75" y2="383.61" stroke="#111" stroke-width="0.8"/>
<circle cx="575.43" cy="384.6" r="1.3" fill="#111"/>
<circle cx="574.27" cy="383.01" r="1.3" fill="#111"/>
<circle cx="574.8" cy="381.42" r="1.3" fill="#111"/>
<circle cx="573.23" cy="379.82" r="1.3" fill="#111"/>
<circle cx="574.78" cy="378.23" r="1.3" fill="#111"/>
<circle cx="575.53" cy="376.64" r="1.3" fill="#111"/>
<line x1="582.35" y1="383.98" x2="582.35" y2="392.2" stroke="#111" stroke-width="0.8"/>
<line x1="579.95" y1="383.98" x2="584.75" y2="383.98" stroke="#111" stroke-width="0.8"/>
<line x1="579.95" y1="392.2" x2="584.75" y2="392.2" stroke="#111" stroke-width="0.8"/>
<circle cx="582.42" cy="393.57" r="1.3" fill="#111"/>
<circle cx="583.12" cy="391.38" r="1.3" fill="#111"/>
<circle cx="582.9" cy="389.19" r="1.3" fill="#111"/>
<circle cx="580.95" cy="386.99" r="1.3" fill="#111"/>
<circle cx="583.18" cy="384.8" r="1.3" fill="#111"/>
<circle cx="582.64" cy="382.61" r="1.3" fill="#111"/>
<text x="577.3" y="447.3" font-size="7.3" text-anchor="end" transform="rotate(-45 577.3 447.3) translate(577.3 447.3) scale(1.000 1.120) translate(-577.3 -447.3)" stroke="#231f20" stroke-width="0.1">pegRNA</text>
<rect x="594.3" y="350.49" width="7.3" height="31.62" fill="url(#hd)"/>
<rect x="594.3" y="382.11" width="7.3" height="53.29" fill="#6698d4"/>
<rect x="594.3" y="350.49" width="7.3" height="84.91" fill="none" stroke="#4a4a4a" stroke-width="0.6"/>
<line x1="594.3" y1="382.11" x2="601.6" y2="382.11" stroke="#333" stroke-width="0.6"/>
<rect x="602.3" y="431.66" width="7.3" height="3.74" fill="#ef6a52" stroke="#4a4a4a" stroke-width="0.6"/>
<rect x="610.3" y="366.68" width="7.3" height="68.72" fill="#d4d4d4" stroke="#4a4a4a" stroke-width="0.6"/>
<line x1="605.9" y1="435.4" x2="605.9" y2="439.6" stroke="#3a3a3a" stroke-width="0.8"/>
<circle cx="597" cy="383.36" r="1.3" fill="#111"/>
<circle cx="595.7" cy="382.86" r="1.3" fill="#111"/>
<circle cx="599.7" cy="382.36" r="1.3" fill="#111"/>
<circle cx="597.82" cy="381.86" r="1.3" fill="#111"/>
<circle cx="599" cy="381.37" r="1.3" fill="#111"/>
<circle cx="599.77" cy="380.87" r="1.3" fill="#111"/>
<line x1="597.95" y1="349.18" x2="597.95" y2="351.8" stroke="#111" stroke-width="0.8"/>
<line x1="595.55" y1="349.18" x2="600.35" y2="349.18" stroke="#111" stroke-width="0.8"/>
<line x1="595.55" y1="351.8" x2="600.35" y2="351.8" stroke="#111" stroke-width="0.8"/>
<circle cx="598.64" cy="352.23" r="1.3" fill="#111"/>
<circle cx="599.3" cy="351.54" r="1.3" fill="#111"/>
<circle cx="597.61" cy="350.84" r="1.3" fill="#111"/>
<circle cx="598.91" cy="350.14" r="1.3" fill="#111"/>
<circle cx="597.77" cy="349.45" r="1.3" fill="#111"/>
<circle cx="599.34" cy="348.75" r="1.3" fill="#111"/>
<circle cx="607.77" cy="432.41" r="1.3" fill="#111"/>
<circle cx="604.02" cy="432.11" r="1.3" fill="#111"/>
<circle cx="604.2" cy="431.81" r="1.3" fill="#111"/>
<circle cx="604.59" cy="431.52" r="1.3" fill="#111"/>
<circle cx="608.18" cy="431.22" r="1.3" fill="#111"/>
<circle cx="605.64" cy="430.92" r="1.3" fill="#111"/>
<line x1="613.95" y1="364.06" x2="613.95" y2="369.29" stroke="#111" stroke-width="0.8"/>
<line x1="611.55" y1="364.06" x2="616.35" y2="364.06" stroke="#111" stroke-width="0.8"/>
<line x1="611.55" y1="369.29" x2="616.35" y2="369.29" stroke="#111" stroke-width="0.8"/>
<circle cx="614.36" cy="370.16" r="1.3" fill="#111"/>
<circle cx="613.31" cy="368.77" r="1.3" fill="#111"/>
<circle cx="613.97" cy="367.37" r="1.3" fill="#111"/>
<circle cx="613.58" cy="365.98" r="1.3" fill="#111"/>
<circle cx="613.47" cy="364.58" r="1.3" fill="#111"/>
<circle cx="614.22" cy="363.19" r="1.3" fill="#111"/>
<text x="608.9" y="447.3" font-size="7.3" text-anchor="end" transform="rotate(-45 608.9 447.3) translate(608.9 447.3) scale(1.000 1.120) translate(-608.9 -447.3)" stroke="#231f20" stroke-width="0.1">C96Me-pegRNA</text>
<rect x="625.9" y="346.76" width="7.3" height="34.11" fill="url(#hd)"/>
<rect x="625.9" y="380.87" width="7.3" height="54.53" fill="#6698d4"/>
<rect x="625.9" y="346.76" width="7.3" height="88.64" fill="none" stroke="#4a4a4a" stroke-width="0.6"/>
<line x1="625.9" y1="380.87" x2="633.2" y2="380.87" stroke="#333" stroke-width="0.6"/>
<rect x="633.9" y="430.42" width="7.3" height="4.98" fill="#ef6a52" stroke="#4a4a4a" stroke-width="0.6"/>
<rect x="641.9" y="365.68" width="7.3" height="69.72" fill="#d4d4d4" stroke="#4a4a4a" stroke-width="0.6"/>
<line x1="637.5" y1="435.4" x2="637.5" y2="439.6" stroke="#3a3a3a" stroke-width="0.8"/>
<line x1="629.55" y1="379" x2="629.55" y2="382.74" stroke="#111" stroke-width="0.8"/>
<line x1="627.15" y1="379" x2="631.95" y2="379" stroke="#111" stroke-width="0.8"/>
<line x1="627.15" y1="382.74" x2="631.95" y2="382.74" stroke="#111" stroke-width="0.8"/>
<circle cx="629.82" cy="383.36" r="1.3" fill="#111"/>
<circle cx="630.84" cy="382.36" r="1.3" fill="#111"/>
<circle cx="630.13" cy="381.37" r="1.3" fill="#111"/>
<circle cx="630.92" cy="380.37" r="1.3" fill="#111"/>
<circle cx="630.69" cy="379.38" r="1.3" fill="#111"/>
<circle cx="631.12" cy="378.38" r="1.3" fill="#111"/>
<line x1="629.55" y1="340.22" x2="629.55" y2="353.29" stroke="#111" stroke-width="0.8"/>
<line x1="627.15" y1="340.22" x2="631.95" y2="340.22" stroke="#111" stroke-width="0.8"/>
<line x1="627.15" y1="353.29" x2="631.95" y2="353.29" stroke="#111" stroke-width="0.8"/>
<circle cx="630.1" cy="355.47" r="1.3" fill="#111"/>
<circle cx="628.47" cy="351.98" r="1.3" fill="#111"/>
<circle cx="630.7" cy="348.5" r="1.3" fill="#111"/>
<circle cx="631.04" cy="345.01" r="1.3" fill="#111"/>
<circle cx="630.85" cy="341.53" r="1.3" fill="#111"/>
<circle cx="629.77" cy="338.04" r="1.3" fill="#111"/>
<circle cx="638.58" cy="431.66" r="1.3" fill="#111"/>
<circle cx="636.16" cy="431.17" r="1.3" fill="#111"/>
<circle cx="639.14" cy="430.67" r="1.3" fill="#111"/>
<circle cx="637.9" cy="430.17" r="1.3" fill="#111"/>
<circle cx="636.52" cy="429.67" r="1.3" fill="#111"/>
<circle cx="635.45" cy="429.17" r="1.3" fill="#111"/>
<line x1="645.55" y1="361.94" x2="645.55" y2="369.41" stroke="#111" stroke-width="0.8"/>
<line x1="643.15" y1="361.94" x2="647.95" y2="361.94" stroke="#111" stroke-width="0.8"/>
<line x1="643.15" y1="369.41" x2="647.95" y2="369.41" stroke="#111" stroke-width="0.8"/>
<circle cx="646.68" cy="370.66" r="1.3" fill="#111"/>
<circle cx="647.12" cy="368.67" r="1.3" fill="#111"/>
<circle cx="644.23" cy="366.68" r="1.3" fill="#111"/>
<circle cx="646.51" cy="364.68" r="1.3" fill="#111"/>
<circle cx="645.26" cy="362.69" r="1.3" fill="#111"/>
<circle cx="644.43" cy="360.7" r="1.3" fill="#111"/>
<text x="640.5" y="447.3" font-size="7.3" text-anchor="end" transform="rotate(-45 640.5 447.3) translate(640.5 447.3) scale(1.000 1.120) translate(-640.5 -447.3)" stroke="#231f20" stroke-width="0.1">G95MeC96Me-pegRNA</text>
<rect x="657.6" y="349.25" width="7.3" height="30.38" fill="url(#hd)"/>
<rect x="657.6" y="379.62" width="7.3" height="55.78" fill="#6698d4"/>
<rect x="657.6" y="349.25" width="7.3" height="86.15" fill="none" stroke="#4a4a4a" stroke-width="0.6"/>
<line x1="657.6" y1="379.62" x2="664.9" y2="379.62" stroke="#333" stroke-width="0.6"/>
<rect x="665.6" y="431.66" width="7.3" height="3.74" fill="#ef6a52" stroke="#4a4a4a" stroke-width="0.6"/>
<rect x="673.6" y="385.6" width="7.3" height="49.8" fill="#d4d4d4" stroke="#4a4a4a" stroke-width="0.6"/>
<line x1="669.2" y1="435.4" x2="669.2" y2="439.6" stroke="#3a3a3a" stroke-width="0.8"/>
<line x1="661.25" y1="374.02" x2="661.25" y2="385.23" stroke="#111" stroke-width="0.8"/>
<line x1="658.85" y1="374.02" x2="663.65" y2="374.02" stroke="#111" stroke-width="0.8"/>
<line x1="658.85" y1="385.23" x2="663.65" y2="385.23" stroke="#111" stroke-width="0.8"/>
<circle cx="660.59" cy="387.09" r="1.3" fill="#111"/>
<circle cx="662.11" cy="384.11" r="1.3" fill="#111"/>
<circle cx="662.44" cy="381.12" r="1.3" fill="#111"/>
<circle cx="659.79" cy="378.13" r="1.3" fill="#111"/>
<circle cx="661.62" cy="375.14" r="1.3" fill="#111"/>
<circle cx="659.79" cy="372.15" r="1.3" fill="#111"/>
<line x1="661.25" y1="338.97" x2="661.25" y2="359.52" stroke="#111" stroke-width="0.8"/>
<line x1="658.85" y1="338.97" x2="663.65" y2="338.97" stroke="#111" stroke-width="0.8"/>
<line x1="658.85" y1="359.52" x2="663.65" y2="359.52" stroke="#111" stroke-width="0.8"/>
<circle cx="661.95" cy="362.94" r="1.3" fill="#111"/>
<circle cx="660.71" cy="357.46" r="1.3" fill="#111"/>
<circle cx="662.47" cy="351.98" r="1.3" fill="#111"/>
<circle cx="662.79" cy="346.51" r="1.3" fill="#111"/>
<circle cx="661.27" cy="341.03" r="1.3" fill="#111"/>
<circle cx="662.85" cy="335.55" r="1.3" fill="#111"/>
<circle cx="668.34" cy="432.41" r="1.3" fill="#111"/>
<circle cx="667.22" cy="432.11" r="1.3" fill="#111"/>
<circle cx="669.73" cy="431.81" r="1.3" fill="#111"/>
<circle cx="667" cy="431.52" r="1.3" fill="#111"/>
<circle cx="667.8" cy="431.22" r="1.3" fill="#111"/>
<circle cx="668.81" cy="430.92" r="1.3" fill="#111"/>
<line x1="677.25" y1="381.12" x2="677.25" y2="390.08" stroke="#111" stroke-width="0.8"/>
<line x1="674.85" y1="381.12" x2="679.65" y2="381.12" stroke="#111" stroke-width="0.8"/>
<line x1="674.85" y1="390.08" x2="679.65" y2="390.08" stroke="#111" stroke-width="0.8"/>
<circle cx="677.6" cy="391.58" r="1.3" fill="#111"/>
<circle cx="676.15" cy="389.19" r="1.3" fill="#111"/>
<circle cx="675.79" cy="386.8" r="1.3" fill="#111"/>
<circle cx="678.43" cy="384.4" r="1.3" fill="#111"/>
<circle cx="676.65" cy="382.01" r="1.3" fill="#111"/>
<circle cx="678.72" cy="379.62" r="1.3" fill="#111"/>
<text x="672.2" y="447.3" font-size="7.3" text-anchor="end" transform="rotate(-45 672.2 447.3) translate(672.2 447.3) scale(1.000 1.120) translate(-672.2 -447.3)" stroke="#231f20" stroke-width="0.1">HiMod-pegRNA</text>
<circle cx="630.2" cy="329.3" r="1.3" fill="#111"/>
<circle cx="661.6" cy="329.3" r="1.3" fill="#111"/>
<circle cx="566" cy="364.8" r="1.3" fill="#111"/>
<rect x="551.1" y="519.6" width="11.5" height="5.1" fill="#6698d4" stroke="#444" stroke-width="0.7"/>
<text x="565.4" y="524.7" font-size="7.8" transform="translate(565.4 524.7) scale(1.000 1.120) translate(-565.4 -524.7)" stroke="#231f20" stroke-width="0.1">Prime edits - precise</text>
<rect x="551.1" y="529.2" width="11.5" height="5.1" fill="url(#hd)" stroke="#444" stroke-width="0.7"/>
<text x="565.4" y="534.3" font-size="7.8" transform="translate(565.4 534.3) scale(1.000 1.120) translate(-565.4 -534.3)" stroke="#231f20" stroke-width="0.1">Prime edits - all (no scaffold)</text>
<rect x="551.1" y="538.8" width="11.5" height="5.1" fill="#ef6a52" stroke="#444" stroke-width="0.7"/>
<text x="565.4" y="543.9" font-size="7.8" transform="translate(565.4 543.9) scale(1.000 1.120) translate(-565.4 -543.9)" stroke="#231f20" stroke-width="0.1">Scaffold incorporated</text>
<rect x="551.1" y="548.4" width="11.5" height="5.1" fill="#d4d4d4" stroke="#444" stroke-width="0.7"/>
<text x="565.4" y="553.5" font-size="7.8" transform="translate(565.4 553.5) scale(1.000 1.120) translate(-565.4 -553.5)" stroke="#231f20" stroke-width="0.1">Indels</text>
<circle cx="250.5" cy="470" r="1.15" fill="#111"/>
<circle cx="251.8" cy="474" r="1.15" fill="#111"/>
<circle cx="249.6" cy="493.8" r="1.15" fill="#111"/>
<circle cx="251.9" cy="498.8" r="1.15" fill="#111"/>
<circle cx="250.6" cy="501" r="1.15" fill="#111"/>
<circle cx="165.7" cy="344.6" r="1.15" fill="#111"/>
<circle cx="165.9" cy="348.6" r="1.15" fill="#111"/>
<circle cx="163.9" cy="363" r="1.15" fill="#111"/>
<circle cx="167.9" cy="362.6" r="1.15" fill="#111"/>
<circle cx="248.2" cy="332.5" r="1.15" fill="#111"/>
<circle cx="250.9" cy="347.2" r="1.15" fill="#111"/>
<line x1="250.5" y1="469.5" x2="250.5" y2="477.5" stroke="#111" stroke-width="0.7"/>
<line x1="248.1" y1="469.5" x2="252.9" y2="469.5" stroke="#111" stroke-width="0.7"/>
<line x1="248.1" y1="477.5" x2="252.9" y2="477.5" stroke="#111" stroke-width="0.7"/>
<line x1="165.8" y1="343.5" x2="165.8" y2="351.5" stroke="#111" stroke-width="0.7"/>
<line x1="163.4" y1="343.5" x2="168.2" y2="343.5" stroke="#111" stroke-width="0.7"/>
<line x1="163.4" y1="351.5" x2="168.2" y2="351.5" stroke="#111" stroke-width="0.7"/>
</svg>
</body></html>
